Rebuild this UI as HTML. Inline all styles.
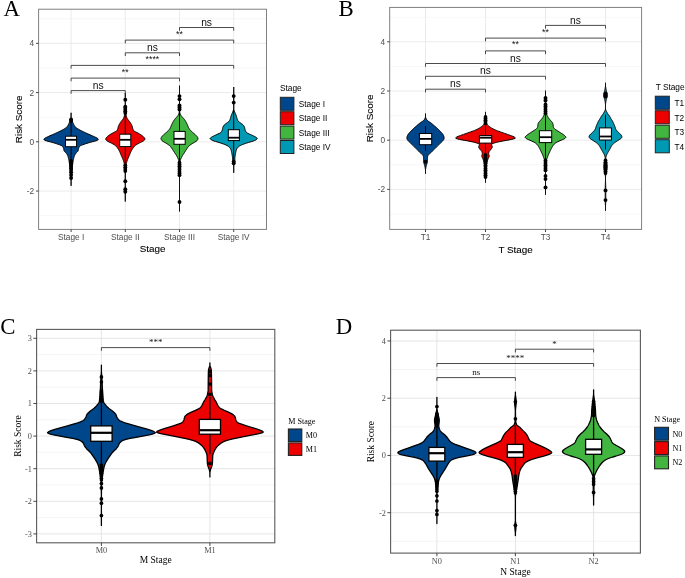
<!DOCTYPE html>
<html lang="en"><head><meta charset="utf-8"><title>Risk score violin plots by stage</title>
<style>html,body{margin:0;padding:0;background:#fff}svg{display:block}</style></head><body>
<svg width="685" height="578" viewBox="0 0 685 578">
<rect width="685" height="578" fill="#fff"/>
<g font-family='"Liberation Sans", Arial, sans-serif'>
<path d="M38.6 18.7H266.5" stroke="#efefef" stroke-width="0.5"/><path d="M38.6 67.94H266.5" stroke="#efefef" stroke-width="0.5"/><path d="M38.6 117.18H266.5" stroke="#efefef" stroke-width="0.5"/><path d="M38.6 166.42H266.5" stroke="#efefef" stroke-width="0.5"/><path d="M38.6 215.66H266.5" stroke="#efefef" stroke-width="0.5"/><path d="M38.6 43.32H266.5" stroke="#e2e2e2" stroke-width="0.7"/><path d="M38.6 92.56H266.5" stroke="#e2e2e2" stroke-width="0.7"/><path d="M38.6 141.8H266.5" stroke="#e2e2e2" stroke-width="0.7"/><path d="M38.6 191.04H266.5" stroke="#e2e2e2" stroke-width="0.7"/><path d="M71.1 9.2V229.4" stroke="#e2e2e2" stroke-width="0.7"/><path d="M125.3 9.2V229.4" stroke="#e2e2e2" stroke-width="0.7"/><path d="M179.5 9.2V229.4" stroke="#e2e2e2" stroke-width="0.7"/><path d="M233.7 9.2V229.4" stroke="#e2e2e2" stroke-width="0.7"/>
<path d="M71.1 112.8 L71.1 113.3 L71.1 113.8 L71.1 114.3 L71.1 114.8 L71.1 115.3 L71.1 115.8 L71.1 116.3 L71.1 116.8 L71.1 117.3 L71.1 117.8 L71.16 118.3 L71.28 118.8 L71.44 119.3 L71.63 119.8 L71.83 120.3 L72.04 120.8 L72.24 121.3 L72.46 121.8 L72.69 122.3 L72.94 122.8 L73.19 123.3 L73.45 123.8 L73.7 124.3 L73.94 124.8 L74.17 125.3 L74.42 125.8 L74.73 126.3 L75.14 126.8 L75.68 127.3 L76.32 127.8 L77.02 128.3 L77.75 128.8 L78.58 129.3 L79.48 129.8 L80.43 130.3 L81.38 130.8 L82.38 131.3 L83.4 131.8 L84.46 132.3 L85.53 132.8 L86.64 133.3 L87.76 133.8 L88.9 134.3 L90.02 134.8 L91.16 135.3 L92.31 135.8 L93.43 136.3 L94.5 136.8 L95.59 137.3 L96.65 137.8 L97.48 138.3 L98.04 138.8 L98.39 139.3 L98.12 139.8 L97.29 140.3 L96.05 140.8 L94.15 141.3 L92.13 141.8 L90.37 142.3 L88.66 142.8 L87 143.3 L85.45 143.8 L84.04 144.3 L82.62 144.8 L81.3 145.3 L80.28 145.8 L79.72 146.3 L79.35 146.8 L79.07 147.3 L78.84 147.8 L78.67 148.3 L78.54 148.8 L78.44 149.3 L78.36 149.8 L78.25 150.3 L78.1 150.8 L77.81 151.3 L77.36 151.8 L76.83 152.3 L76.31 152.8 L75.87 153.3 L75.54 153.8 L75.24 154.3 L74.95 154.8 L74.7 155.3 L74.47 155.8 L74.27 156.3 L74.1 156.8 L73.95 157.3 L73.82 157.8 L73.69 158.3 L73.57 158.8 L73.47 159.3 L73.37 159.8 L73.27 160.3 L73.18 160.8 L73.1 161.3 L73.03 161.8 L72.96 162.3 L72.89 162.8 L72.83 163.3 L72.76 163.8 L72.7 164.3 L72.63 164.8 L72.55 165.3 L72.47 165.8 L72.39 166.3 L72.3 166.8 L72.21 167.3 L72.12 167.8 L72.04 168.3 L71.96 168.8 L71.88 169.3 L71.82 169.8 L71.77 170.3 L71.72 170.8 L71.68 171.3 L71.63 171.8 L71.59 172.3 L71.56 172.8 L71.52 173.3 L71.48 173.8 L71.45 174.3 L71.42 174.8 L71.39 175.3 L71.35 175.8 L71.32 176.3 L71.29 176.8 L71.25 177.3 L71.22 177.8 L71.18 178.3 L71.14 178.8 L71.1 179.3 L71.1 179.8 L71.1 180.3 L71.1 180.8 L71.1 181.3 L71.1 181.8 L71.1 182.3 L71.1 182.8 L71.1 183.3 L71.1 183.8 L71.1 184.3 L71.1 184.8 L71.1 185.3 L71.1 185.8 L71.1 185.8 L71.1 185.3 L71.1 184.8 L71.1 184.3 L71.1 183.8 L71.1 183.3 L71.1 182.8 L71.1 182.3 L71.1 181.8 L71.1 181.3 L71.1 180.8 L71.1 180.3 L71.1 179.8 L71.1 179.3 L71.06 178.8 L71.02 178.3 L70.98 177.8 L70.95 177.3 L70.91 176.8 L70.88 176.3 L70.85 175.8 L70.81 175.3 L70.78 174.8 L70.75 174.3 L70.72 173.8 L70.68 173.3 L70.64 172.8 L70.61 172.3 L70.57 171.8 L70.52 171.3 L70.48 170.8 L70.43 170.3 L70.38 169.8 L70.32 169.3 L70.24 168.8 L70.16 168.3 L70.08 167.8 L69.99 167.3 L69.9 166.8 L69.81 166.3 L69.73 165.8 L69.65 165.3 L69.57 164.8 L69.5 164.3 L69.44 163.8 L69.37 163.3 L69.31 162.8 L69.24 162.3 L69.17 161.8 L69.1 161.3 L69.02 160.8 L68.93 160.3 L68.83 159.8 L68.73 159.3 L68.63 158.8 L68.51 158.3 L68.38 157.8 L68.25 157.3 L68.1 156.8 L67.93 156.3 L67.73 155.8 L67.5 155.3 L67.25 154.8 L66.96 154.3 L66.66 153.8 L66.33 153.3 L65.89 152.8 L65.37 152.3 L64.84 151.8 L64.39 151.3 L64.1 150.8 L63.95 150.3 L63.84 149.8 L63.76 149.3 L63.66 148.8 L63.53 148.3 L63.36 147.8 L63.13 147.3 L62.85 146.8 L62.48 146.3 L61.92 145.8 L60.9 145.3 L59.58 144.8 L58.16 144.3 L56.75 143.8 L55.2 143.3 L53.54 142.8 L51.83 142.3 L50.07 141.8 L48.05 141.3 L46.15 140.8 L44.91 140.3 L44.08 139.8 L43.81 139.3 L44.16 138.8 L44.72 138.3 L45.55 137.8 L46.61 137.3 L47.7 136.8 L48.77 136.3 L49.89 135.8 L51.04 135.3 L52.18 134.8 L53.3 134.3 L54.44 133.8 L55.56 133.3 L56.67 132.8 L57.74 132.3 L58.8 131.8 L59.82 131.3 L60.82 130.8 L61.77 130.3 L62.72 129.8 L63.62 129.3 L64.45 128.8 L65.18 128.3 L65.88 127.8 L66.52 127.3 L67.06 126.8 L67.47 126.3 L67.78 125.8 L68.03 125.3 L68.26 124.8 L68.5 124.3 L68.75 123.8 L69.01 123.3 L69.26 122.8 L69.51 122.3 L69.74 121.8 L69.96 121.3 L70.16 120.8 L70.37 120.3 L70.57 119.8 L70.76 119.3 L70.92 118.8 L71.04 118.3 L71.1 117.8 L71.1 117.3 L71.1 116.8 L71.1 116.3 L71.1 115.8 L71.1 115.3 L71.1 114.8 L71.1 114.3 L71.1 113.8 L71.1 113.3 L71.1 112.8Z" fill="#00468B" stroke="#000" stroke-width="1.0" stroke-linejoin="round"/>
<path d="M125.3 93 L125.3 93.5 L125.3 94 L125.3 94.5 L125.3 95 L125.3 95.5 L125.3 96 L125.3 96.5 L125.3 97 L125.3 97.5 L125.3 98 L125.3 98.5 L125.3 99 L125.3 99.5 L125.3 100 L125.3 100.5 L125.3 101 L125.3 101.5 L125.3 102 L125.3 102.5 L125.3 103 L125.3 103.5 L125.3 104 L125.3 104.5 L125.3 105 L125.3 105.5 L125.3 106 L125.3 106.5 L125.3 107 L125.3 107.5 L125.3 108 L125.3 108.5 L125.3 109 L125.3 109.5 L125.3 110 L125.32 110.5 L125.36 111 L125.42 111.5 L125.49 112 L125.57 112.5 L125.66 113 L125.76 113.5 L125.86 114 L125.96 114.5 L126.06 115 L126.18 115.5 L126.3 116 L126.44 116.5 L126.6 117 L126.77 117.5 L126.97 118 L127.2 118.5 L127.51 119 L127.89 119.5 L128.29 120 L128.67 120.5 L129.06 121 L129.46 121.5 L129.84 122 L130.2 122.5 L130.53 123 L130.84 123.5 L131.13 124 L131.4 124.5 L131.65 125 L131.88 125.5 L132.09 126 L132.27 126.5 L132.41 127 L132.52 127.5 L132.62 128 L132.74 128.5 L132.9 129 L133.08 129.5 L133.3 130 L133.59 130.5 L133.99 131 L134.78 131.5 L135.83 132 L136.92 132.5 L137.86 133 L138.76 133.5 L139.65 134 L140.49 134.5 L141.24 135 L141.94 135.5 L142.6 136 L143.19 136.5 L143.7 137 L144.16 137.5 L144.55 138 L144.77 138.5 L144.9 139 L144.8 139.5 L144.54 140 L144.03 140.5 L143.34 141 L142.53 141.5 L141.51 142 L140.42 142.5 L139.37 143 L138.47 143.5 L137.58 144 L136.72 144.5 L135.93 145 L135.25 145.5 L134.69 146 L134.22 146.5 L133.8 147 L133.42 147.5 L133.07 148 L132.73 148.5 L132.4 149 L132.09 149.5 L131.8 150 L131.52 150.5 L131.25 151 L131 151.5 L130.77 152 L130.55 152.5 L130.35 153 L130.15 153.5 L129.95 154 L129.74 154.5 L129.53 155 L129.31 155.5 L129.08 156 L128.86 156.5 L128.64 157 L128.42 157.5 L128.22 158 L128.01 158.5 L127.8 159 L127.6 159.5 L127.41 160 L127.23 160.5 L127.07 161 L126.91 161.5 L126.76 162 L126.62 162.5 L126.49 163 L126.38 163.5 L126.3 164 L126.23 164.5 L126.17 165 L126.1 165.5 L126.04 166 L125.99 166.5 L125.93 167 L125.88 167.5 L125.83 168 L125.78 168.5 L125.74 169 L125.69 169.5 L125.65 170 L125.62 170.5 L125.58 171 L125.55 171.5 L125.52 172 L125.49 172.5 L125.47 173 L125.45 173.5 L125.43 174 L125.41 174.5 L125.4 175 L125.39 175.5 L125.38 176 L125.37 176.5 L125.36 177 L125.35 177.5 L125.34 178 L125.34 178.5 L125.33 179 L125.32 179.5 L125.32 180 L125.31 180.5 L125.31 181 L125.3 181.5 L125.3 182 L125.3 182.5 L125.3 183 L125.3 183.5 L125.3 184 L125.3 184.5 L125.3 185 L125.3 185.5 L125.3 186 L125.3 186.5 L125.3 187 L125.3 187.5 L125.3 188 L125.3 188.5 L125.3 189 L125.3 189.5 L125.3 190 L125.3 190.5 L125.3 191 L125.3 191.5 L125.3 192 L125.3 192.5 L125.3 193 L125.3 193.5 L125.3 194 L125.3 194.5 L125.3 195 L125.3 195.5 L125.3 196 L125.3 196.5 L125.3 197 L125.3 197.5 L125.3 198 L125.3 198.5 L125.3 199 L125.3 199.5 L125.3 200 L125.3 200.5 L125.3 201 L125.3 201.5 L125.3 201.5 L125.3 201 L125.3 200.5 L125.3 200 L125.3 199.5 L125.3 199 L125.3 198.5 L125.3 198 L125.3 197.5 L125.3 197 L125.3 196.5 L125.3 196 L125.3 195.5 L125.3 195 L125.3 194.5 L125.3 194 L125.3 193.5 L125.3 193 L125.3 192.5 L125.3 192 L125.3 191.5 L125.3 191 L125.3 190.5 L125.3 190 L125.3 189.5 L125.3 189 L125.3 188.5 L125.3 188 L125.3 187.5 L125.3 187 L125.3 186.5 L125.3 186 L125.3 185.5 L125.3 185 L125.3 184.5 L125.3 184 L125.3 183.5 L125.3 183 L125.3 182.5 L125.3 182 L125.3 181.5 L125.29 181 L125.29 180.5 L125.28 180 L125.28 179.5 L125.27 179 L125.26 178.5 L125.26 178 L125.25 177.5 L125.24 177 L125.23 176.5 L125.22 176 L125.21 175.5 L125.2 175 L125.19 174.5 L125.17 174 L125.15 173.5 L125.13 173 L125.11 172.5 L125.08 172 L125.05 171.5 L125.02 171 L124.98 170.5 L124.95 170 L124.91 169.5 L124.86 169 L124.82 168.5 L124.77 168 L124.72 167.5 L124.67 167 L124.61 166.5 L124.56 166 L124.5 165.5 L124.43 165 L124.37 164.5 L124.3 164 L124.22 163.5 L124.11 163 L123.98 162.5 L123.84 162 L123.69 161.5 L123.53 161 L123.37 160.5 L123.19 160 L123 159.5 L122.8 159 L122.59 158.5 L122.38 158 L122.18 157.5 L121.96 157 L121.74 156.5 L121.52 156 L121.29 155.5 L121.07 155 L120.86 154.5 L120.65 154 L120.45 153.5 L120.25 153 L120.05 152.5 L119.83 152 L119.6 151.5 L119.35 151 L119.08 150.5 L118.8 150 L118.51 149.5 L118.2 149 L117.87 148.5 L117.53 148 L117.18 147.5 L116.8 147 L116.38 146.5 L115.91 146 L115.35 145.5 L114.67 145 L113.88 144.5 L113.02 144 L112.13 143.5 L111.23 143 L110.18 142.5 L109.09 142 L108.07 141.5 L107.26 141 L106.57 140.5 L106.06 140 L105.8 139.5 L105.7 139 L105.83 138.5 L106.05 138 L106.44 137.5 L106.9 137 L107.41 136.5 L108 136 L108.66 135.5 L109.36 135 L110.11 134.5 L110.95 134 L111.84 133.5 L112.74 133 L113.68 132.5 L114.77 132 L115.82 131.5 L116.61 131 L117.01 130.5 L117.3 130 L117.52 129.5 L117.7 129 L117.86 128.5 L117.98 128 L118.08 127.5 L118.19 127 L118.33 126.5 L118.51 126 L118.72 125.5 L118.95 125 L119.2 124.5 L119.47 124 L119.76 123.5 L120.07 123 L120.4 122.5 L120.76 122 L121.14 121.5 L121.54 121 L121.93 120.5 L122.31 120 L122.71 119.5 L123.09 119 L123.4 118.5 L123.63 118 L123.83 117.5 L124 117 L124.16 116.5 L124.3 116 L124.42 115.5 L124.54 115 L124.64 114.5 L124.74 114 L124.84 113.5 L124.94 113 L125.03 112.5 L125.11 112 L125.18 111.5 L125.24 111 L125.28 110.5 L125.3 110 L125.3 109.5 L125.3 109 L125.3 108.5 L125.3 108 L125.3 107.5 L125.3 107 L125.3 106.5 L125.3 106 L125.3 105.5 L125.3 105 L125.3 104.5 L125.3 104 L125.3 103.5 L125.3 103 L125.3 102.5 L125.3 102 L125.3 101.5 L125.3 101 L125.3 100.5 L125.3 100 L125.3 99.5 L125.3 99 L125.3 98.5 L125.3 98 L125.3 97.5 L125.3 97 L125.3 96.5 L125.3 96 L125.3 95.5 L125.3 95 L125.3 94.5 L125.3 94 L125.3 93.5 L125.3 93Z" fill="#ED0000" stroke="#000" stroke-width="1.0" stroke-linejoin="round"/>
<path d="M179.5 85.7 L179.5 86.2 L179.5 86.7 L179.5 87.2 L179.5 87.7 L179.5 88.2 L179.5 88.7 L179.5 89.2 L179.5 89.7 L179.5 90.2 L179.5 90.7 L179.5 91.2 L179.5 91.7 L179.5 92.2 L179.5 92.7 L179.5 93.2 L179.5 93.7 L179.5 94.2 L179.5 94.7 L179.5 95.2 L179.5 95.7 L179.5 96.2 L179.5 96.7 L179.5 97.2 L179.5 97.7 L179.5 98.2 L179.5 98.7 L179.5 99.2 L179.5 99.7 L179.5 100.2 L179.5 100.7 L179.5 101.2 L179.5 101.7 L179.5 102.2 L179.5 102.7 L179.5 103.2 L179.5 103.7 L179.5 104.2 L179.5 104.7 L179.5 105.2 L179.51 105.7 L179.52 106.2 L179.53 106.7 L179.54 107.2 L179.55 107.7 L179.56 108.2 L179.58 108.7 L179.6 109.2 L179.61 109.7 L179.64 110.2 L179.66 110.7 L179.68 111.2 L179.72 111.7 L179.78 112.2 L179.89 112.7 L180.04 113.2 L180.21 113.7 L180.4 114.2 L180.61 114.7 L180.85 115.2 L181.19 115.7 L181.59 116.2 L182 116.7 L182.42 117.2 L182.88 117.7 L183.34 118.2 L183.79 118.7 L184.2 119.2 L184.57 119.7 L184.91 120.2 L185.24 120.7 L185.55 121.2 L185.84 121.7 L186.12 122.2 L186.38 122.7 L186.63 123.2 L186.87 123.7 L187.11 124.2 L187.33 124.7 L187.54 125.2 L187.74 125.7 L187.94 126.2 L188.16 126.7 L188.4 127.2 L188.65 127.7 L188.92 128.2 L189.2 128.7 L189.52 129.2 L189.87 129.7 L190.3 130.2 L190.78 130.7 L191.31 131.2 L191.86 131.7 L192.4 132.2 L192.96 132.7 L193.56 133.2 L194.17 133.7 L194.76 134.2 L195.3 134.7 L195.8 135.2 L196.3 135.7 L196.77 136.2 L197.18 136.7 L197.5 137.2 L197.73 137.7 L197.92 138.2 L198 138.7 L197.9 139.2 L197.67 139.7 L197.37 140.2 L196.92 140.7 L196.33 141.2 L195.56 141.7 L194.67 142.2 L193.75 142.7 L192.87 143.2 L192.1 143.7 L191.35 144.2 L190.62 144.7 L189.94 145.2 L189.32 145.7 L188.8 146.2 L188.36 146.7 L187.96 147.2 L187.6 147.7 L187.26 148.2 L186.93 148.7 L186.6 149.2 L186.27 149.7 L185.94 150.2 L185.62 150.7 L185.31 151.2 L185.01 151.7 L184.7 152.2 L184.39 152.7 L184.07 153.2 L183.73 153.7 L183.38 154.2 L183.03 154.7 L182.7 155.2 L182.38 155.7 L182.1 156.2 L181.85 156.7 L181.61 157.2 L181.37 157.7 L181.13 158.2 L180.91 158.7 L180.71 159.2 L180.53 159.7 L180.39 160.2 L180.27 160.7 L180.2 161.2 L180.15 161.7 L180.1 162.2 L180.06 162.7 L180.01 163.2 L179.97 163.7 L179.93 164.2 L179.89 164.7 L179.86 165.2 L179.83 165.7 L179.79 166.2 L179.76 166.7 L179.73 167.2 L179.71 167.7 L179.68 168.2 L179.66 168.7 L179.64 169.2 L179.62 169.7 L179.6 170.2 L179.58 170.7 L179.57 171.2 L179.56 171.7 L179.54 172.2 L179.53 172.7 L179.52 173.2 L179.51 173.7 L179.51 174.2 L179.5 174.7 L179.5 175.2 L179.5 175.7 L179.5 176.2 L179.5 176.7 L179.5 177.2 L179.5 177.7 L179.5 178.2 L179.5 178.7 L179.5 179.2 L179.5 179.7 L179.5 180.2 L179.5 180.7 L179.5 181.2 L179.5 181.7 L179.5 182.2 L179.5 182.7 L179.5 183.2 L179.5 183.7 L179.5 184.2 L179.5 184.7 L179.5 185.2 L179.5 185.7 L179.5 186.2 L179.5 186.7 L179.5 187.2 L179.5 187.7 L179.5 188.2 L179.5 188.7 L179.5 189.2 L179.5 189.7 L179.5 190.2 L179.5 190.7 L179.5 191.2 L179.5 191.7 L179.5 192.2 L179.5 192.7 L179.5 193.2 L179.5 193.7 L179.5 194.2 L179.5 194.7 L179.5 195.2 L179.5 195.7 L179.5 196.2 L179.5 196.7 L179.5 197.2 L179.5 197.7 L179.5 198.2 L179.5 198.7 L179.5 199.2 L179.5 199.7 L179.5 200.2 L179.5 200.7 L179.5 201.2 L179.5 201.7 L179.5 202.2 L179.5 202.7 L179.5 203.2 L179.5 203.7 L179.5 204.2 L179.5 204.7 L179.5 205.2 L179.5 205.7 L179.5 206.2 L179.5 206.7 L179.5 207.2 L179.5 207.7 L179.5 208.2 L179.5 208.7 L179.5 209.2 L179.5 209.7 L179.5 210.2 L179.5 210.7 L179.5 211.2 L179.5 211.4 L179.5 211.4 L179.5 211.2 L179.5 210.7 L179.5 210.2 L179.5 209.7 L179.5 209.2 L179.5 208.7 L179.5 208.2 L179.5 207.7 L179.5 207.2 L179.5 206.7 L179.5 206.2 L179.5 205.7 L179.5 205.2 L179.5 204.7 L179.5 204.2 L179.5 203.7 L179.5 203.2 L179.5 202.7 L179.5 202.2 L179.5 201.7 L179.5 201.2 L179.5 200.7 L179.5 200.2 L179.5 199.7 L179.5 199.2 L179.5 198.7 L179.5 198.2 L179.5 197.7 L179.5 197.2 L179.5 196.7 L179.5 196.2 L179.5 195.7 L179.5 195.2 L179.5 194.7 L179.5 194.2 L179.5 193.7 L179.5 193.2 L179.5 192.7 L179.5 192.2 L179.5 191.7 L179.5 191.2 L179.5 190.7 L179.5 190.2 L179.5 189.7 L179.5 189.2 L179.5 188.7 L179.5 188.2 L179.5 187.7 L179.5 187.2 L179.5 186.7 L179.5 186.2 L179.5 185.7 L179.5 185.2 L179.5 184.7 L179.5 184.2 L179.5 183.7 L179.5 183.2 L179.5 182.7 L179.5 182.2 L179.5 181.7 L179.5 181.2 L179.5 180.7 L179.5 180.2 L179.5 179.7 L179.5 179.2 L179.5 178.7 L179.5 178.2 L179.5 177.7 L179.5 177.2 L179.5 176.7 L179.5 176.2 L179.5 175.7 L179.5 175.2 L179.5 174.7 L179.49 174.2 L179.49 173.7 L179.48 173.2 L179.47 172.7 L179.46 172.2 L179.44 171.7 L179.43 171.2 L179.42 170.7 L179.4 170.2 L179.38 169.7 L179.36 169.2 L179.34 168.7 L179.32 168.2 L179.29 167.7 L179.27 167.2 L179.24 166.7 L179.21 166.2 L179.17 165.7 L179.14 165.2 L179.11 164.7 L179.07 164.2 L179.03 163.7 L178.99 163.2 L178.94 162.7 L178.9 162.2 L178.85 161.7 L178.8 161.2 L178.73 160.7 L178.61 160.2 L178.47 159.7 L178.29 159.2 L178.09 158.7 L177.87 158.2 L177.63 157.7 L177.39 157.2 L177.15 156.7 L176.9 156.2 L176.62 155.7 L176.3 155.2 L175.97 154.7 L175.62 154.2 L175.27 153.7 L174.93 153.2 L174.61 152.7 L174.3 152.2 L173.99 151.7 L173.69 151.2 L173.38 150.7 L173.06 150.2 L172.73 149.7 L172.4 149.2 L172.07 148.7 L171.74 148.2 L171.4 147.7 L171.04 147.2 L170.64 146.7 L170.2 146.2 L169.68 145.7 L169.06 145.2 L168.38 144.7 L167.65 144.2 L166.9 143.7 L166.13 143.2 L165.25 142.7 L164.33 142.2 L163.44 141.7 L162.67 141.2 L162.08 140.7 L161.63 140.2 L161.33 139.7 L161.1 139.2 L161 138.7 L161.08 138.2 L161.27 137.7 L161.5 137.2 L161.82 136.7 L162.23 136.2 L162.7 135.7 L163.2 135.2 L163.7 134.7 L164.24 134.2 L164.83 133.7 L165.44 133.2 L166.04 132.7 L166.6 132.2 L167.14 131.7 L167.69 131.2 L168.22 130.7 L168.7 130.2 L169.13 129.7 L169.48 129.2 L169.8 128.7 L170.08 128.2 L170.35 127.7 L170.6 127.2 L170.84 126.7 L171.06 126.2 L171.26 125.7 L171.46 125.2 L171.67 124.7 L171.89 124.2 L172.13 123.7 L172.37 123.2 L172.62 122.7 L172.88 122.2 L173.16 121.7 L173.45 121.2 L173.76 120.7 L174.09 120.2 L174.43 119.7 L174.8 119.2 L175.21 118.7 L175.66 118.2 L176.12 117.7 L176.58 117.2 L177 116.7 L177.41 116.2 L177.81 115.7 L178.15 115.2 L178.39 114.7 L178.6 114.2 L178.79 113.7 L178.96 113.2 L179.11 112.7 L179.22 112.2 L179.28 111.7 L179.32 111.2 L179.34 110.7 L179.36 110.2 L179.39 109.7 L179.4 109.2 L179.42 108.7 L179.44 108.2 L179.45 107.7 L179.46 107.2 L179.47 106.7 L179.48 106.2 L179.49 105.7 L179.5 105.2 L179.5 104.7 L179.5 104.2 L179.5 103.7 L179.5 103.2 L179.5 102.7 L179.5 102.2 L179.5 101.7 L179.5 101.2 L179.5 100.7 L179.5 100.2 L179.5 99.7 L179.5 99.2 L179.5 98.7 L179.5 98.2 L179.5 97.7 L179.5 97.2 L179.5 96.7 L179.5 96.2 L179.5 95.7 L179.5 95.2 L179.5 94.7 L179.5 94.2 L179.5 93.7 L179.5 93.2 L179.5 92.7 L179.5 92.2 L179.5 91.7 L179.5 91.2 L179.5 90.7 L179.5 90.2 L179.5 89.7 L179.5 89.2 L179.5 88.7 L179.5 88.2 L179.5 87.7 L179.5 87.2 L179.5 86.7 L179.5 86.2 L179.5 85.7Z" fill="#42B540" stroke="#000" stroke-width="1.0" stroke-linejoin="round"/>
<path d="M233.7 87 L233.7 87.5 L233.7 88 L233.7 88.5 L233.7 89 L233.7 89.5 L233.7 90 L233.7 90.5 L233.7 91 L233.7 91.5 L233.7 92 L233.72 92.5 L233.75 93 L233.79 93.5 L233.82 94 L233.84 94.5 L233.86 95 L233.88 95.5 L233.89 96 L233.9 96.5 L233.9 97 L233.9 97.5 L233.9 98 L233.9 98.5 L233.89 99 L233.89 99.5 L233.88 100 L233.88 100.5 L233.87 101 L233.87 101.5 L233.86 102 L233.86 102.5 L233.85 103 L233.84 103.5 L233.84 104 L233.83 104.5 L233.83 105 L233.82 105.5 L233.82 106 L233.81 106.5 L233.81 107 L233.8 107.5 L233.8 108 L233.8 108.5 L233.8 109 L233.84 109.5 L233.95 110 L234.12 110.5 L234.32 111 L234.52 111.5 L234.73 112 L234.91 112.5 L235.12 113 L235.34 113.5 L235.57 114 L235.79 114.5 L235.99 115 L236.17 115.5 L236.32 116 L236.46 116.5 L236.59 117 L236.72 117.5 L236.87 118 L237.03 118.5 L237.2 119 L237.38 119.5 L237.58 120 L237.81 120.5 L238.1 121 L238.54 121.5 L239.17 122 L239.87 122.5 L240.57 123 L241.24 123.5 L241.97 124 L242.66 124.5 L243.22 125 L243.6 125.5 L243.93 126 L244.21 126.5 L244.43 127 L244.59 127.5 L244.71 128 L244.81 128.5 L244.9 129 L245.01 129.5 L245.16 130 L245.34 130.5 L245.54 131 L245.79 131.5 L246.1 132 L246.49 132.5 L247.21 133 L248.24 133.5 L249.4 134 L250.5 134.5 L251.56 135 L252.65 135.5 L253.72 136 L254.7 136.5 L255.63 137 L256.46 137.5 L256.98 138 L257.29 138.5 L257.1 139 L256.59 139.5 L255.77 140 L254.67 140.5 L253.41 141 L251.82 141.5 L250.07 142 L248.34 142.5 L246.81 143 L245.33 143.5 L243.91 144 L242.61 144.5 L241.49 145 L240.48 145.5 L239.55 146 L238.78 146.5 L238.2 147 L237.74 147.5 L237.34 148 L237 148.5 L236.72 149 L236.5 149.5 L236.33 150 L236.18 150.5 L236.04 151 L235.92 151.5 L235.82 152 L235.72 152.5 L235.63 153 L235.54 153.5 L235.45 154 L235.36 154.5 L235.27 155 L235.18 155.5 L235.11 156 L235.04 156.5 L234.97 157 L234.92 157.5 L234.89 158 L234.86 158.5 L234.84 159 L234.82 159.5 L234.8 160 L234.78 160.5 L234.76 161 L234.73 161.5 L234.7 162 L234.64 162.5 L234.54 163 L234.43 163.5 L234.29 164 L234.15 164.5 L234.02 165 L233.9 165.5 L233.81 166 L233.75 166.5 L233.7 167 L233.7 167.5 L233.7 168 L233.7 168.5 L233.7 169 L233.7 169.5 L233.7 170 L233.7 170.5 L233.7 171 L233.7 171.5 L233.7 172 L233.7 172.5 L233.7 172.8 L233.7 172.8 L233.7 172.5 L233.7 172 L233.7 171.5 L233.7 171 L233.7 170.5 L233.7 170 L233.7 169.5 L233.7 169 L233.7 168.5 L233.7 168 L233.7 167.5 L233.7 167 L233.65 166.5 L233.59 166 L233.5 165.5 L233.38 165 L233.25 164.5 L233.11 164 L232.97 163.5 L232.86 163 L232.76 162.5 L232.7 162 L232.67 161.5 L232.64 161 L232.62 160.5 L232.6 160 L232.58 159.5 L232.56 159 L232.54 158.5 L232.51 158 L232.48 157.5 L232.43 157 L232.36 156.5 L232.29 156 L232.22 155.5 L232.13 155 L232.04 154.5 L231.95 154 L231.86 153.5 L231.77 153 L231.68 152.5 L231.58 152 L231.48 151.5 L231.36 151 L231.22 150.5 L231.07 150 L230.9 149.5 L230.68 149 L230.4 148.5 L230.06 148 L229.66 147.5 L229.2 147 L228.62 146.5 L227.85 146 L226.92 145.5 L225.91 145 L224.79 144.5 L223.49 144 L222.07 143.5 L220.59 143 L219.06 142.5 L217.33 142 L215.58 141.5 L213.99 141 L212.73 140.5 L211.63 140 L210.81 139.5 L210.3 139 L210.11 138.5 L210.42 138 L210.94 137.5 L211.77 137 L212.7 136.5 L213.68 136 L214.75 135.5 L215.84 135 L216.9 134.5 L218 134 L219.16 133.5 L220.19 133 L220.91 132.5 L221.3 132 L221.61 131.5 L221.86 131 L222.06 130.5 L222.24 130 L222.39 129.5 L222.5 129 L222.59 128.5 L222.69 128 L222.81 127.5 L222.97 127 L223.19 126.5 L223.47 126 L223.8 125.5 L224.18 125 L224.74 124.5 L225.43 124 L226.16 123.5 L226.83 123 L227.53 122.5 L228.23 122 L228.86 121.5 L229.3 121 L229.59 120.5 L229.82 120 L230.02 119.5 L230.2 119 L230.37 118.5 L230.53 118 L230.68 117.5 L230.81 117 L230.94 116.5 L231.08 116 L231.23 115.5 L231.41 115 L231.61 114.5 L231.83 114 L232.06 113.5 L232.28 113 L232.49 112.5 L232.67 112 L232.88 111.5 L233.08 111 L233.28 110.5 L233.45 110 L233.56 109.5 L233.6 109 L233.6 108.5 L233.6 108 L233.6 107.5 L233.59 107 L233.59 106.5 L233.58 106 L233.58 105.5 L233.57 105 L233.57 104.5 L233.56 104 L233.56 103.5 L233.55 103 L233.54 102.5 L233.54 102 L233.53 101.5 L233.53 101 L233.52 100.5 L233.52 100 L233.51 99.5 L233.51 99 L233.5 98.5 L233.5 98 L233.5 97.5 L233.5 97 L233.5 96.5 L233.51 96 L233.52 95.5 L233.54 95 L233.56 94.5 L233.58 94 L233.61 93.5 L233.65 93 L233.68 92.5 L233.7 92 L233.7 91.5 L233.7 91 L233.7 90.5 L233.7 90 L233.7 89.5 L233.7 89 L233.7 88.5 L233.7 88 L233.7 87.5 L233.7 87Z" fill="#0099B4" stroke="#000" stroke-width="1.0" stroke-linejoin="round"/>
<path d="M71.1 121V161" stroke="#000" stroke-width="1.0"/><rect x="65.5" y="136.2" width="11.1" height="10.5" fill="#fff" stroke="#000" stroke-width="1.0"/><path d="M65.5 139.8H76.6" stroke="#000" stroke-width="1.8"/><g fill="#000"><circle cx="71.1" cy="119.5" r="1.95"/><circle cx="71.1" cy="121" r="1.95"/><circle cx="71.1" cy="161" r="1.89"/><circle cx="71.1" cy="162.8" r="1.89"/><circle cx="71.1" cy="164.6" r="1.89"/><circle cx="71.1" cy="166.4" r="1.89"/><circle cx="71.1" cy="168.2" r="1.89"/><circle cx="71.1" cy="170" r="1.89"/><circle cx="71.1" cy="172.2" r="1.95"/><circle cx="71.1" cy="175" r="1.95"/><circle cx="71.1" cy="178" r="1.95"/></g>
<path d="M125.3 113V165" stroke="#000" stroke-width="1.0"/><rect x="119.7" y="134.2" width="11.1" height="12.4" fill="#fff" stroke="#000" stroke-width="1.0"/><path d="M119.7 139.8H130.8" stroke="#000" stroke-width="1.8"/><g fill="#000"><circle cx="125.3" cy="99.8" r="1.95"/><circle cx="125.3" cy="106.8" r="1.95"/><circle cx="125.3" cy="108" r="1.89"/><circle cx="125.3" cy="109.67" r="1.89"/><circle cx="125.3" cy="111.33" r="1.89"/><circle cx="125.3" cy="113" r="1.89"/><circle cx="125.3" cy="165.3" r="1.89"/><circle cx="125.3" cy="167.2" r="1.89"/><circle cx="125.3" cy="169.1" r="1.89"/><circle cx="125.3" cy="171" r="1.89"/><circle cx="125.3" cy="181.2" r="1.95"/><circle cx="125.3" cy="189.2" r="1.95"/><circle cx="125.3" cy="191.8" r="1.95"/></g>
<path d="M179.5 110V163" stroke="#000" stroke-width="1.0"/><rect x="174" y="131.4" width="11.2" height="12.9" fill="#fff" stroke="#000" stroke-width="1.0"/><path d="M174 138.8H185.2" stroke="#000" stroke-width="1.8"/><g fill="#000"><circle cx="179.5" cy="96.1" r="1.95"/><circle cx="179.5" cy="99.2" r="1.95"/><circle cx="179.5" cy="105.5" r="1.95"/><circle cx="179.5" cy="107.5" r="1.95"/><circle cx="179.5" cy="109.5" r="1.95"/><circle cx="179.5" cy="162.7" r="1.89"/><circle cx="179.5" cy="164.49" r="1.89"/><circle cx="179.5" cy="166.27" r="1.89"/><circle cx="179.5" cy="168.06" r="1.89"/><circle cx="179.5" cy="169.84" r="1.89"/><circle cx="179.5" cy="171.63" r="1.89"/><circle cx="179.5" cy="173.41" r="1.89"/><circle cx="179.5" cy="175.2" r="1.89"/><circle cx="179.5" cy="202" r="1.95"/></g>
<path d="M233.7 110V160" stroke="#000" stroke-width="1.0"/><rect x="228.3" y="129.7" width="11.1" height="10.9" fill="#fff" stroke="#000" stroke-width="1.0"/><path d="M228.3 137.7H239.4" stroke="#000" stroke-width="1.8"/><g fill="#000"><circle cx="233.7" cy="96.1" r="1.95"/><circle cx="233.7" cy="102.6" r="1.95"/><circle cx="233.7" cy="161.6" r="1.95"/><circle cx="233.7" cy="163.3" r="1.95"/></g>
<path d="M179.5 30.7V27.5H233.7V30.7" fill="none" stroke="#2b2b2b" stroke-width="0.85"/>
<text x="206.6" y="25.6" font-size="10.3" text-anchor="middle" fill="#111">ns</text>
<path d="M125.3 43.3V40.1H233.7V43.3" fill="none" stroke="#2b2b2b" stroke-width="0.85"/>
<text x="179.5" y="36.5" font-size="8.8" text-anchor="middle" fill="#111">**</text>
<path d="M125.3 56V52.8H179.5V56" fill="none" stroke="#2b2b2b" stroke-width="0.85"/>
<text x="152.4" y="50.9" font-size="10.3" text-anchor="middle" fill="#111">ns</text>
<path d="M71.1 68.6V65.4H233.7V68.6" fill="none" stroke="#2b2b2b" stroke-width="0.85"/>
<text x="152.4" y="61.8" font-size="8.8" text-anchor="middle" fill="#111">****</text>
<path d="M71.1 81.3V78.1H179.5V81.3" fill="none" stroke="#2b2b2b" stroke-width="0.85"/>
<text x="125.3" y="74.5" font-size="8.8" text-anchor="middle" fill="#111">**</text>
<path d="M71.1 93.8V90.6H125.3V93.8" fill="none" stroke="#2b2b2b" stroke-width="0.85"/>
<text x="98.2" y="88.7" font-size="10.3" text-anchor="middle" fill="#111">ns</text>
<rect x="38.6" y="9.2" width="227.9" height="220.2" fill="none" stroke="#7a7a7a" stroke-width="0.95"/>
<path d="M36 43.32H38.6" stroke="#333" stroke-width="0.9"/><text x="34.2" y="46.31" font-size="8.3" text-anchor="end" fill="#4d4d4d">4</text><path d="M36 92.56H38.6" stroke="#333" stroke-width="0.9"/><text x="34.2" y="95.55" font-size="8.3" text-anchor="end" fill="#4d4d4d">2</text><path d="M36 141.8H38.6" stroke="#333" stroke-width="0.9"/><text x="34.2" y="144.79" font-size="8.3" text-anchor="end" fill="#4d4d4d">0</text><path d="M36 191.04H38.6" stroke="#333" stroke-width="0.9"/><text x="34.2" y="194.03" font-size="8.3" text-anchor="end" fill="#4d4d4d">-2</text><path d="M71.1 229.4V232" stroke="#333" stroke-width="0.9"/><text x="71.1" y="239.5" font-size="8.3" text-anchor="middle" fill="#4d4d4d">Stage I</text><path d="M125.3 229.4V232" stroke="#333" stroke-width="0.9"/><text x="125.3" y="239.5" font-size="8.3" text-anchor="middle" fill="#4d4d4d">Stage II</text><path d="M179.5 229.4V232" stroke="#333" stroke-width="0.9"/><text x="179.5" y="239.5" font-size="8.3" text-anchor="middle" fill="#4d4d4d">Stage III</text><path d="M233.7 229.4V232" stroke="#333" stroke-width="0.9"/><text x="233.7" y="239.5" font-size="8.3" text-anchor="middle" fill="#4d4d4d">Stage IV</text>
<text x="152.55" y="252.2" font-size="9.9" text-anchor="middle" fill="#000" stroke="#000" stroke-width="0.1">Stage</text>
<text transform="translate(21.7 119.3) rotate(-90)" font-size="9.9" text-anchor="middle" fill="#000" stroke="#000" stroke-width="0.1">Risk Score</text>
<text x="280" y="91.2" font-size="8.3" fill="#000">Stage</text>
<rect x="280.3" y="97.3" width="13.6" height="13" fill="#00468B" stroke="#222" stroke-width="1.0"/>
<text x="298.7" y="106.9" font-size="8.3" fill="#000">Stage I</text>
<rect x="280.3" y="111.7" width="13.6" height="13" fill="#ED0000" stroke="#222" stroke-width="1.0"/>
<text x="298.7" y="121.3" font-size="8.3" fill="#000">Stage II</text>
<rect x="280.3" y="126.1" width="13.6" height="13" fill="#42B540" stroke="#222" stroke-width="1.0"/>
<text x="298.7" y="135.7" font-size="8.3" fill="#000">Stage III</text>
<rect x="280.3" y="140.5" width="13.6" height="13" fill="#0099B4" stroke="#222" stroke-width="1.0"/>
<text x="298.7" y="150.1" font-size="8.3" fill="#000">Stage IV</text>
</g>
<text x="3.4" y="16.2" font-family='"Liberation Serif", "Times New Roman", serif' font-size="22.8" fill="#000">A</text>
<g font-family='"Liberation Sans", Arial, sans-serif'>
<path d="M389.7 17.2H641.6" stroke="#efefef" stroke-width="0.5"/><path d="M389.7 66.4H641.6" stroke="#efefef" stroke-width="0.5"/><path d="M389.7 115.6H641.6" stroke="#efefef" stroke-width="0.5"/><path d="M389.7 164.8H641.6" stroke="#efefef" stroke-width="0.5"/><path d="M389.7 214H641.6" stroke="#efefef" stroke-width="0.5"/><path d="M389.7 41.8H641.6" stroke="#e2e2e2" stroke-width="0.7"/><path d="M389.7 91H641.6" stroke="#e2e2e2" stroke-width="0.7"/><path d="M389.7 140.2H641.6" stroke="#e2e2e2" stroke-width="0.7"/><path d="M389.7 189.4H641.6" stroke="#e2e2e2" stroke-width="0.7"/><path d="M425.5 7.4V229.4" stroke="#e2e2e2" stroke-width="0.7"/><path d="M485.5 7.4V229.4" stroke="#e2e2e2" stroke-width="0.7"/><path d="M545.5 7.4V229.4" stroke="#e2e2e2" stroke-width="0.7"/><path d="M605.5 7.4V229.4" stroke="#e2e2e2" stroke-width="0.7"/>
<path d="M425.5 113.6 L425.5 114.1 L425.5 114.6 L425.5 115.1 L425.5 115.6 L425.5 116.1 L425.5 116.6 L425.55 117.1 L425.69 117.6 L425.87 118.1 L426.11 118.6 L426.38 119.1 L426.7 119.6 L427.1 120.1 L427.58 120.6 L428.13 121.1 L428.84 121.6 L429.63 122.1 L430.43 122.6 L431.13 123.1 L431.77 123.6 L432.37 124.1 L432.95 124.6 L433.52 125.1 L434.1 125.6 L434.68 126.1 L435.26 126.6 L435.83 127.1 L436.4 127.6 L436.95 128.1 L437.49 128.6 L438.02 129.1 L438.55 129.6 L439.06 130.1 L439.57 130.6 L440.05 131.1 L440.52 131.6 L440.97 132.1 L441.43 132.6 L441.88 133.1 L442.31 133.6 L442.7 134.1 L443.03 134.6 L443.3 135.1 L443.55 135.6 L443.76 136.1 L443.93 136.6 L444.01 137.1 L444.06 137.6 L444.09 138.1 L444.1 138.6 L443.97 139.1 L443.7 139.6 L443.35 140.1 L443 140.6 L442.61 141.1 L442.12 141.6 L441.59 142.1 L441.04 142.6 L440.5 143.1 L439.99 143.6 L439.48 144.1 L438.96 144.6 L438.44 145.1 L437.92 145.6 L437.4 146.1 L436.9 146.6 L436.39 147.1 L435.89 147.6 L435.39 148.1 L434.89 148.6 L434.4 149.1 L433.9 149.6 L433.43 150.1 L432.96 150.6 L432.49 151.1 L432.02 151.6 L431.52 152.1 L431 152.6 L430.39 153.1 L429.7 153.6 L429.07 154.1 L428.6 154.6 L428.27 155.1 L427.98 155.6 L427.75 156.1 L427.61 156.6 L427.56 157.1 L427.52 157.6 L427.49 158.1 L427.46 158.6 L427.44 159.1 L427.43 159.6 L427.41 160.1 L427.39 160.6 L427.36 161.1 L427.33 161.6 L427.28 162.1 L427.19 162.6 L427.07 163.1 L426.93 163.6 L426.78 164.1 L426.62 164.6 L426.46 165.1 L426.32 165.6 L426.2 166.1 L426.1 166.6 L426 167.1 L425.9 167.6 L425.81 168.1 L425.73 168.6 L425.64 169.1 L425.56 169.6 L425.5 170.1 L425.5 170.6 L425.5 171.1 L425.5 171.6 L425.5 172.1 L425.5 172.6 L425.5 173.1 L425.5 173.6 L425.5 173.7 L425.5 173.7 L425.5 173.6 L425.5 173.1 L425.5 172.6 L425.5 172.1 L425.5 171.6 L425.5 171.1 L425.5 170.6 L425.5 170.1 L425.44 169.6 L425.36 169.1 L425.27 168.6 L425.19 168.1 L425.1 167.6 L425 167.1 L424.9 166.6 L424.8 166.1 L424.68 165.6 L424.54 165.1 L424.38 164.6 L424.22 164.1 L424.07 163.6 L423.93 163.1 L423.81 162.6 L423.72 162.1 L423.67 161.6 L423.64 161.1 L423.61 160.6 L423.59 160.1 L423.57 159.6 L423.56 159.1 L423.54 158.6 L423.51 158.1 L423.48 157.6 L423.44 157.1 L423.39 156.6 L423.25 156.1 L423.02 155.6 L422.73 155.1 L422.4 154.6 L421.93 154.1 L421.3 153.6 L420.61 153.1 L420 152.6 L419.48 152.1 L418.98 151.6 L418.51 151.1 L418.04 150.6 L417.57 150.1 L417.1 149.6 L416.6 149.1 L416.11 148.6 L415.61 148.1 L415.11 147.6 L414.61 147.1 L414.1 146.6 L413.6 146.1 L413.08 145.6 L412.56 145.1 L412.04 144.6 L411.52 144.1 L411.01 143.6 L410.5 143.1 L409.96 142.6 L409.41 142.1 L408.88 141.6 L408.39 141.1 L408 140.6 L407.65 140.1 L407.3 139.6 L407.03 139.1 L406.9 138.6 L406.91 138.1 L406.94 137.6 L406.99 137.1 L407.07 136.6 L407.24 136.1 L407.45 135.6 L407.7 135.1 L407.97 134.6 L408.3 134.1 L408.69 133.6 L409.12 133.1 L409.57 132.6 L410.03 132.1 L410.48 131.6 L410.95 131.1 L411.43 130.6 L411.94 130.1 L412.45 129.6 L412.98 129.1 L413.51 128.6 L414.05 128.1 L414.6 127.6 L415.17 127.1 L415.74 126.6 L416.32 126.1 L416.9 125.6 L417.48 125.1 L418.05 124.6 L418.63 124.1 L419.23 123.6 L419.87 123.1 L420.57 122.6 L421.37 122.1 L422.16 121.6 L422.87 121.1 L423.42 120.6 L423.9 120.1 L424.3 119.6 L424.62 119.1 L424.89 118.6 L425.13 118.1 L425.31 117.6 L425.45 117.1 L425.5 116.6 L425.5 116.1 L425.5 115.6 L425.5 115.1 L425.5 114.6 L425.5 114.1 L425.5 113.6Z" fill="#00468B" stroke="#000" stroke-width="1.0" stroke-linejoin="round"/>
<path d="M485.5 111.9 L485.5 112.4 L485.5 112.9 L485.5 113.4 L485.5 113.9 L485.5 114.4 L485.5 114.9 L485.5 115.4 L485.5 115.9 L485.5 116.4 L485.5 116.9 L485.53 117.4 L485.59 117.9 L485.65 118.4 L485.7 118.9 L485.75 119.4 L485.8 119.9 L485.86 120.4 L485.92 120.9 L485.99 121.4 L486.07 121.9 L486.16 122.4 L486.27 122.9 L486.4 123.4 L486.64 123.9 L487.04 124.4 L487.53 124.9 L488.08 125.4 L488.62 125.9 L489.21 126.4 L489.86 126.9 L490.57 127.4 L491.34 127.9 L492.18 128.4 L493.1 128.9 L494.11 129.4 L495.19 129.9 L496.33 130.4 L497.6 130.9 L498.97 131.4 L500.41 131.9 L501.84 132.4 L503.24 132.9 L504.65 133.4 L506.07 133.9 L507.49 134.4 L508.88 134.9 L510.32 135.4 L511.73 135.9 L512.98 136.4 L514.02 136.9 L514.87 137.4 L515.47 137.9 L515 138.4 L513.61 138.9 L511.5 139.4 L509.04 139.9 L506.21 140.4 L503.41 140.9 L500.92 141.4 L498.44 141.9 L496.25 142.4 L494.62 142.9 L493.24 143.4 L492.09 143.9 L491.52 144.4 L491.56 144.9 L491.77 145.4 L492.03 145.9 L492.24 146.4 L492.3 146.9 L492.19 147.4 L491.96 147.9 L491.65 148.4 L491.33 148.9 L490.98 149.4 L490.5 149.9 L489.96 150.4 L489.5 150.9 L489.2 151.4 L489.03 151.9 L488.89 152.4 L488.78 152.9 L488.71 153.4 L488.71 153.9 L488.81 154.4 L488.97 154.9 L489.12 155.4 L489.2 155.9 L489.16 156.4 L489 156.9 L488.77 157.4 L488.51 157.9 L488.26 158.4 L488.07 158.9 L487.9 159.4 L487.74 159.9 L487.59 160.4 L487.45 160.9 L487.31 161.4 L487.18 161.9 L487.05 162.4 L486.92 162.9 L486.79 163.4 L486.67 163.9 L486.54 164.4 L486.43 164.9 L486.32 165.4 L486.23 165.9 L486.15 166.4 L486.09 166.9 L486.03 167.4 L485.98 167.9 L485.94 168.4 L485.9 168.9 L485.86 169.4 L485.82 169.9 L485.79 170.4 L485.75 170.9 L485.72 171.4 L485.69 171.9 L485.66 172.4 L485.63 172.9 L485.6 173.4 L485.57 173.9 L485.54 174.4 L485.51 174.9 L485.5 175.4 L485.5 175.9 L485.5 176.4 L485.5 176.9 L485.5 177.4 L485.5 177.9 L485.5 178.4 L485.5 178.9 L485.5 179.4 L485.5 179.9 L485.5 180.4 L485.5 180.9 L485.5 181.4 L485.5 181.9 L485.5 182.4 L485.5 182.6 L485.5 182.6 L485.5 182.4 L485.5 181.9 L485.5 181.4 L485.5 180.9 L485.5 180.4 L485.5 179.9 L485.5 179.4 L485.5 178.9 L485.5 178.4 L485.5 177.9 L485.5 177.4 L485.5 176.9 L485.5 176.4 L485.5 175.9 L485.5 175.4 L485.49 174.9 L485.46 174.4 L485.43 173.9 L485.4 173.4 L485.37 172.9 L485.34 172.4 L485.31 171.9 L485.28 171.4 L485.25 170.9 L485.21 170.4 L485.18 169.9 L485.14 169.4 L485.1 168.9 L485.06 168.4 L485.02 167.9 L484.97 167.4 L484.91 166.9 L484.85 166.4 L484.77 165.9 L484.68 165.4 L484.57 164.9 L484.46 164.4 L484.33 163.9 L484.21 163.4 L484.08 162.9 L483.95 162.4 L483.82 161.9 L483.69 161.4 L483.55 160.9 L483.41 160.4 L483.26 159.9 L483.1 159.4 L482.93 158.9 L482.74 158.4 L482.49 157.9 L482.23 157.4 L482 156.9 L481.84 156.4 L481.8 155.9 L481.88 155.4 L482.03 154.9 L482.19 154.4 L482.29 153.9 L482.29 153.4 L482.22 152.9 L482.11 152.4 L481.97 151.9 L481.8 151.4 L481.5 150.9 L481.04 150.4 L480.5 149.9 L480.02 149.4 L479.67 148.9 L479.35 148.4 L479.04 147.9 L478.81 147.4 L478.7 146.9 L478.76 146.4 L478.97 145.9 L479.23 145.4 L479.44 144.9 L479.48 144.4 L478.91 143.9 L477.76 143.4 L476.38 142.9 L474.75 142.4 L472.56 141.9 L470.08 141.4 L467.59 140.9 L464.79 140.4 L461.96 139.9 L459.5 139.4 L457.39 138.9 L456 138.4 L455.53 137.9 L456.13 137.4 L456.98 136.9 L458.02 136.4 L459.27 135.9 L460.68 135.4 L462.12 134.9 L463.51 134.4 L464.93 133.9 L466.35 133.4 L467.76 132.9 L469.16 132.4 L470.59 131.9 L472.03 131.4 L473.4 130.9 L474.67 130.4 L475.81 129.9 L476.89 129.4 L477.9 128.9 L478.82 128.4 L479.66 127.9 L480.43 127.4 L481.14 126.9 L481.79 126.4 L482.38 125.9 L482.92 125.4 L483.47 124.9 L483.96 124.4 L484.36 123.9 L484.6 123.4 L484.73 122.9 L484.84 122.4 L484.93 121.9 L485.01 121.4 L485.08 120.9 L485.14 120.4 L485.2 119.9 L485.25 119.4 L485.3 118.9 L485.35 118.4 L485.41 117.9 L485.47 117.4 L485.5 116.9 L485.5 116.4 L485.5 115.9 L485.5 115.4 L485.5 114.9 L485.5 114.4 L485.5 113.9 L485.5 113.4 L485.5 112.9 L485.5 112.4 L485.5 111.9Z" fill="#ED0000" stroke="#000" stroke-width="1.0" stroke-linejoin="round"/>
<path d="M545.5 90.7 L545.5 91.2 L545.5 91.7 L545.5 92.2 L545.5 92.7 L545.5 93.2 L545.5 93.7 L545.5 94.2 L545.5 94.7 L545.5 95.2 L545.5 95.7 L545.5 96.2 L545.5 96.7 L545.5 97.2 L545.5 97.7 L545.5 98.2 L545.5 98.7 L545.5 99.2 L545.5 99.7 L545.51 100.2 L545.54 100.7 L545.57 101.2 L545.6 101.7 L545.63 102.2 L545.65 102.7 L545.68 103.2 L545.71 103.7 L545.73 104.2 L545.76 104.7 L545.79 105.2 L545.82 105.7 L545.85 106.2 L545.88 106.7 L545.91 107.2 L545.95 107.7 L545.98 108.2 L546.02 108.7 L546.06 109.2 L546.11 109.7 L546.15 110.2 L546.2 110.7 L546.26 111.2 L546.31 111.7 L546.38 112.2 L546.44 112.7 L546.51 113.2 L546.58 113.7 L546.68 114.2 L546.84 114.7 L547.04 115.2 L547.26 115.7 L547.5 116.2 L547.75 116.7 L548.03 117.2 L548.35 117.7 L548.69 118.2 L549.05 118.7 L549.46 119.2 L549.9 119.7 L550.35 120.2 L550.79 120.7 L551.26 121.2 L551.74 121.7 L552.15 122.2 L552.45 122.7 L552.67 123.2 L552.85 123.7 L553 124.2 L553.1 124.7 L553.16 125.2 L553.19 125.7 L553.23 126.2 L553.28 126.7 L553.42 127.2 L553.7 127.7 L554.08 128.2 L554.52 128.7 L555.02 129.2 L555.7 129.7 L556.5 130.2 L557.33 130.7 L558.1 131.2 L558.88 131.7 L559.66 132.2 L560.44 132.7 L561.21 133.2 L561.98 133.7 L562.75 134.2 L563.48 134.7 L564.12 135.2 L564.73 135.7 L565.25 136.2 L565.65 136.7 L565.9 137.2 L565.66 137.7 L565.2 138.2 L564.5 138.7 L563.57 139.2 L562.42 139.7 L561.18 140.2 L560.01 140.7 L558.95 141.2 L557.87 141.7 L556.85 142.2 L555.99 142.7 L555.31 143.2 L554.73 143.7 L554.21 144.2 L553.74 144.7 L553.33 145.2 L552.96 145.7 L552.62 146.2 L552.32 146.7 L552.04 147.2 L551.77 147.7 L551.51 148.2 L551.25 148.7 L550.99 149.2 L550.74 149.7 L550.5 150.2 L550.27 150.7 L550.03 151.2 L549.8 151.7 L549.57 152.2 L549.33 152.7 L549.1 153.2 L548.88 153.7 L548.66 154.2 L548.44 154.7 L548.23 155.2 L548.03 155.7 L547.83 156.2 L547.64 156.7 L547.45 157.2 L547.27 157.7 L547.09 158.2 L546.89 158.7 L546.71 159.2 L546.56 159.7 L546.47 160.2 L546.39 160.7 L546.32 161.2 L546.25 161.7 L546.18 162.2 L546.12 162.7 L546.06 163.2 L546 163.7 L545.95 164.2 L545.9 164.7 L545.86 165.2 L545.82 165.7 L545.78 166.2 L545.74 166.7 L545.71 167.2 L545.69 167.7 L545.66 168.2 L545.64 168.7 L545.62 169.2 L545.61 169.7 L545.6 170.2 L545.59 170.7 L545.58 171.2 L545.57 171.7 L545.56 172.2 L545.55 172.7 L545.54 173.2 L545.54 173.7 L545.53 174.2 L545.53 174.7 L545.52 175.2 L545.52 175.7 L545.51 176.2 L545.51 176.7 L545.51 177.2 L545.5 177.7 L545.5 178.2 L545.5 178.7 L545.5 179.2 L545.5 179.7 L545.5 180.2 L545.5 180.7 L545.5 181.2 L545.5 181.7 L545.5 182.2 L545.5 182.7 L545.5 183.2 L545.5 183.7 L545.5 184.2 L545.5 184.7 L545.5 185.2 L545.5 185.7 L545.5 186.2 L545.5 186.7 L545.5 187.2 L545.5 187.7 L545.5 188.2 L545.5 188.7 L545.5 189.2 L545.5 189.7 L545.5 190.2 L545.5 190.7 L545.5 191.2 L545.5 191.7 L545.5 192.2 L545.5 192.7 L545.5 193.2 L545.5 193.7 L545.5 194.2 L545.5 194.7 L545.5 194.7 L545.5 194.2 L545.5 193.7 L545.5 193.2 L545.5 192.7 L545.5 192.2 L545.5 191.7 L545.5 191.2 L545.5 190.7 L545.5 190.2 L545.5 189.7 L545.5 189.2 L545.5 188.7 L545.5 188.2 L545.5 187.7 L545.5 187.2 L545.5 186.7 L545.5 186.2 L545.5 185.7 L545.5 185.2 L545.5 184.7 L545.5 184.2 L545.5 183.7 L545.5 183.2 L545.5 182.7 L545.5 182.2 L545.5 181.7 L545.5 181.2 L545.5 180.7 L545.5 180.2 L545.5 179.7 L545.5 179.2 L545.5 178.7 L545.5 178.2 L545.5 177.7 L545.49 177.2 L545.49 176.7 L545.49 176.2 L545.48 175.7 L545.48 175.2 L545.47 174.7 L545.47 174.2 L545.46 173.7 L545.46 173.2 L545.45 172.7 L545.44 172.2 L545.43 171.7 L545.42 171.2 L545.41 170.7 L545.4 170.2 L545.39 169.7 L545.38 169.2 L545.36 168.7 L545.34 168.2 L545.31 167.7 L545.29 167.2 L545.26 166.7 L545.22 166.2 L545.18 165.7 L545.14 165.2 L545.1 164.7 L545.05 164.2 L545 163.7 L544.94 163.2 L544.88 162.7 L544.82 162.2 L544.75 161.7 L544.68 161.2 L544.61 160.7 L544.53 160.2 L544.44 159.7 L544.29 159.2 L544.11 158.7 L543.91 158.2 L543.73 157.7 L543.55 157.2 L543.36 156.7 L543.17 156.2 L542.97 155.7 L542.77 155.2 L542.56 154.7 L542.34 154.2 L542.12 153.7 L541.9 153.2 L541.67 152.7 L541.43 152.2 L541.2 151.7 L540.97 151.2 L540.73 150.7 L540.5 150.2 L540.26 149.7 L540.01 149.2 L539.75 148.7 L539.49 148.2 L539.23 147.7 L538.96 147.2 L538.68 146.7 L538.38 146.2 L538.04 145.7 L537.67 145.2 L537.26 144.7 L536.79 144.2 L536.27 143.7 L535.69 143.2 L535.01 142.7 L534.15 142.2 L533.13 141.7 L532.05 141.2 L530.99 140.7 L529.82 140.2 L528.58 139.7 L527.43 139.2 L526.5 138.7 L525.8 138.2 L525.34 137.7 L525.1 137.2 L525.35 136.7 L525.75 136.2 L526.27 135.7 L526.88 135.2 L527.52 134.7 L528.25 134.2 L529.02 133.7 L529.79 133.2 L530.56 132.7 L531.34 132.2 L532.12 131.7 L532.9 131.2 L533.67 130.7 L534.5 130.2 L535.3 129.7 L535.98 129.2 L536.48 128.7 L536.92 128.2 L537.3 127.7 L537.58 127.2 L537.72 126.7 L537.77 126.2 L537.81 125.7 L537.84 125.2 L537.9 124.7 L538 124.2 L538.15 123.7 L538.33 123.2 L538.55 122.7 L538.85 122.2 L539.26 121.7 L539.74 121.2 L540.21 120.7 L540.65 120.2 L541.1 119.7 L541.54 119.2 L541.95 118.7 L542.31 118.2 L542.65 117.7 L542.97 117.2 L543.25 116.7 L543.5 116.2 L543.74 115.7 L543.96 115.2 L544.16 114.7 L544.32 114.2 L544.42 113.7 L544.49 113.2 L544.56 112.7 L544.62 112.2 L544.69 111.7 L544.74 111.2 L544.8 110.7 L544.85 110.2 L544.89 109.7 L544.94 109.2 L544.98 108.7 L545.02 108.2 L545.05 107.7 L545.09 107.2 L545.12 106.7 L545.15 106.2 L545.18 105.7 L545.21 105.2 L545.24 104.7 L545.27 104.2 L545.29 103.7 L545.32 103.2 L545.35 102.7 L545.37 102.2 L545.4 101.7 L545.43 101.2 L545.46 100.7 L545.49 100.2 L545.5 99.7 L545.5 99.2 L545.5 98.7 L545.5 98.2 L545.5 97.7 L545.5 97.2 L545.5 96.7 L545.5 96.2 L545.5 95.7 L545.5 95.2 L545.5 94.7 L545.5 94.2 L545.5 93.7 L545.5 93.2 L545.5 92.7 L545.5 92.2 L545.5 91.7 L545.5 91.2 L545.5 90.7Z" fill="#42B540" stroke="#000" stroke-width="1.0" stroke-linejoin="round"/>
<path d="M605.5 82.8 L605.5 83.3 L605.5 83.8 L605.5 84.3 L605.5 84.8 L605.5 85.3 L605.5 85.8 L605.54 86.3 L605.63 86.8 L605.71 87.3 L605.8 87.8 L605.89 88.3 L605.98 88.8 L606.07 89.3 L606.16 89.8 L606.26 90.3 L606.38 90.8 L606.51 91.3 L606.65 91.8 L606.79 92.3 L606.93 92.8 L607.05 93.3 L607.16 93.8 L607.24 94.3 L607.29 94.8 L607.3 95.3 L607.27 95.8 L607.2 96.3 L607.11 96.8 L606.99 97.3 L606.85 97.8 L606.7 98.3 L606.55 98.8 L606.4 99.3 L606.26 99.8 L606.14 100.3 L606.03 100.8 L605.95 101.3 L605.87 101.8 L605.79 102.3 L605.71 102.8 L605.64 103.3 L605.58 103.8 L605.54 104.3 L605.51 104.8 L605.5 105.3 L605.5 105.8 L605.51 106.3 L605.51 106.8 L605.53 107.3 L605.54 107.8 L605.56 108.3 L605.58 108.8 L605.6 109.3 L605.7 109.8 L605.91 110.3 L606.18 110.8 L606.45 111.3 L606.69 111.8 L606.94 112.3 L607.2 112.8 L607.48 113.3 L607.79 113.8 L608.15 114.3 L608.54 114.8 L608.93 115.3 L609.3 115.8 L609.63 116.3 L609.93 116.8 L610.21 117.3 L610.49 117.8 L610.77 118.3 L611.06 118.8 L611.37 119.3 L611.69 119.8 L612.01 120.3 L612.32 120.8 L612.6 121.3 L612.85 121.8 L613.09 122.3 L613.32 122.8 L613.54 123.3 L613.76 123.8 L613.98 124.3 L614.2 124.8 L614.42 125.3 L614.63 125.8 L614.83 126.3 L615 126.8 L615.14 127.3 L615.27 127.8 L615.41 128.3 L615.58 128.8 L615.8 129.3 L616.12 129.8 L616.51 130.3 L616.94 130.8 L617.38 131.3 L617.86 131.8 L618.37 132.3 L618.89 132.8 L619.4 133.3 L619.97 133.8 L620.55 134.3 L621.06 134.8 L621.4 135.3 L621.63 135.8 L621.81 136.3 L621.9 136.8 L621.83 137.3 L621.57 137.8 L621.21 138.3 L620.54 138.8 L619.83 139.3 L619.07 139.8 L618.28 140.3 L617.5 140.8 L616.74 141.3 L615.95 141.8 L615.18 142.3 L614.47 142.8 L613.87 143.3 L613.34 143.8 L612.85 144.3 L612.4 144.8 L611.99 145.3 L611.63 145.8 L611.32 146.3 L611.03 146.8 L610.77 147.3 L610.52 147.8 L610.27 148.3 L610 148.8 L609.71 149.3 L609.42 149.8 L609.12 150.3 L608.83 150.8 L608.54 151.3 L608.25 151.8 L607.98 152.3 L607.69 152.8 L607.4 153.3 L607.13 153.8 L606.89 154.3 L606.67 154.8 L606.49 155.3 L606.32 155.8 L606.15 156.3 L606 156.8 L605.88 157.3 L605.81 157.8 L605.81 158.3 L605.87 158.8 L605.97 159.3 L606.11 159.8 L606.24 160.3 L606.36 160.8 L606.45 161.3 L606.54 161.8 L606.64 162.3 L606.73 162.8 L606.83 163.3 L606.91 163.8 L606.99 164.3 L607.06 164.8 L607.12 165.3 L607.17 165.8 L607.19 166.3 L607.2 166.8 L607.18 167.3 L607.13 167.8 L607.05 168.3 L606.96 168.8 L606.86 169.3 L606.75 169.8 L606.64 170.3 L606.53 170.8 L606.42 171.3 L606.33 171.8 L606.25 172.3 L606.17 172.8 L606.08 173.3 L606 173.8 L605.91 174.3 L605.82 174.8 L605.74 175.3 L605.67 175.8 L605.6 176.3 L605.55 176.8 L605.52 177.3 L605.5 177.8 L605.5 178.3 L605.5 178.8 L605.51 179.3 L605.52 179.8 L605.53 180.3 L605.54 180.8 L605.55 181.3 L605.57 181.8 L605.58 182.3 L605.6 182.8 L605.62 183.3 L605.64 183.8 L605.65 184.3 L605.67 184.8 L605.69 185.3 L605.71 185.8 L605.72 186.3 L605.74 186.8 L605.75 187.3 L605.77 187.8 L605.78 188.3 L605.79 188.8 L605.79 189.3 L605.8 189.8 L605.8 190.3 L605.8 190.8 L605.8 191.3 L605.8 191.8 L605.8 192.3 L605.8 192.8 L605.8 193.3 L605.8 193.8 L605.8 194.3 L605.8 194.8 L605.8 195.3 L605.8 195.8 L605.8 196.3 L605.8 196.8 L605.8 197.3 L605.8 197.8 L605.8 198.3 L605.8 198.8 L605.8 199.3 L605.8 199.8 L605.8 200.3 L605.79 200.8 L605.78 201.3 L605.77 201.8 L605.75 202.3 L605.73 202.8 L605.7 203.3 L605.67 203.8 L605.63 204.3 L605.6 204.8 L605.56 205.3 L605.51 205.8 L605.5 206.3 L605.5 206.8 L605.5 207.3 L605.5 207.8 L605.5 208.3 L605.5 208.8 L605.5 209.3 L605.5 209.8 L605.5 210.3 L605.5 210.7 L605.5 210.7 L605.5 210.3 L605.5 209.8 L605.5 209.3 L605.5 208.8 L605.5 208.3 L605.5 207.8 L605.5 207.3 L605.5 206.8 L605.5 206.3 L605.49 205.8 L605.44 205.3 L605.4 204.8 L605.37 204.3 L605.33 203.8 L605.3 203.3 L605.27 202.8 L605.25 202.3 L605.23 201.8 L605.22 201.3 L605.21 200.8 L605.2 200.3 L605.2 199.8 L605.2 199.3 L605.2 198.8 L605.2 198.3 L605.2 197.8 L605.2 197.3 L605.2 196.8 L605.2 196.3 L605.2 195.8 L605.2 195.3 L605.2 194.8 L605.2 194.3 L605.2 193.8 L605.2 193.3 L605.2 192.8 L605.2 192.3 L605.2 191.8 L605.2 191.3 L605.2 190.8 L605.2 190.3 L605.2 189.8 L605.21 189.3 L605.21 188.8 L605.22 188.3 L605.23 187.8 L605.25 187.3 L605.26 186.8 L605.28 186.3 L605.29 185.8 L605.31 185.3 L605.33 184.8 L605.35 184.3 L605.36 183.8 L605.38 183.3 L605.4 182.8 L605.42 182.3 L605.43 181.8 L605.45 181.3 L605.46 180.8 L605.47 180.3 L605.48 179.8 L605.49 179.3 L605.5 178.8 L605.5 178.3 L605.5 177.8 L605.48 177.3 L605.45 176.8 L605.4 176.3 L605.33 175.8 L605.26 175.3 L605.18 174.8 L605.09 174.3 L605 173.8 L604.92 173.3 L604.83 172.8 L604.75 172.3 L604.67 171.8 L604.58 171.3 L604.47 170.8 L604.36 170.3 L604.25 169.8 L604.14 169.3 L604.04 168.8 L603.95 168.3 L603.87 167.8 L603.82 167.3 L603.8 166.8 L603.81 166.3 L603.83 165.8 L603.88 165.3 L603.94 164.8 L604.01 164.3 L604.09 163.8 L604.17 163.3 L604.27 162.8 L604.36 162.3 L604.46 161.8 L604.55 161.3 L604.64 160.8 L604.76 160.3 L604.89 159.8 L605.03 159.3 L605.13 158.8 L605.19 158.3 L605.19 157.8 L605.12 157.3 L605 156.8 L604.85 156.3 L604.68 155.8 L604.51 155.3 L604.33 154.8 L604.11 154.3 L603.87 153.8 L603.6 153.3 L603.31 152.8 L603.02 152.3 L602.75 151.8 L602.46 151.3 L602.17 150.8 L601.88 150.3 L601.58 149.8 L601.29 149.3 L601 148.8 L600.73 148.3 L600.48 147.8 L600.23 147.3 L599.97 146.8 L599.68 146.3 L599.37 145.8 L599.01 145.3 L598.6 144.8 L598.15 144.3 L597.66 143.8 L597.13 143.3 L596.53 142.8 L595.82 142.3 L595.05 141.8 L594.26 141.3 L593.5 140.8 L592.72 140.3 L591.93 139.8 L591.17 139.3 L590.46 138.8 L589.79 138.3 L589.43 137.8 L589.17 137.3 L589.1 136.8 L589.19 136.3 L589.37 135.8 L589.6 135.3 L589.94 134.8 L590.45 134.3 L591.03 133.8 L591.6 133.3 L592.11 132.8 L592.63 132.3 L593.14 131.8 L593.62 131.3 L594.06 130.8 L594.49 130.3 L594.88 129.8 L595.2 129.3 L595.42 128.8 L595.59 128.3 L595.73 127.8 L595.86 127.3 L596 126.8 L596.17 126.3 L596.37 125.8 L596.58 125.3 L596.8 124.8 L597.02 124.3 L597.24 123.8 L597.46 123.3 L597.68 122.8 L597.91 122.3 L598.15 121.8 L598.4 121.3 L598.68 120.8 L598.99 120.3 L599.31 119.8 L599.63 119.3 L599.94 118.8 L600.23 118.3 L600.51 117.8 L600.79 117.3 L601.07 116.8 L601.37 116.3 L601.7 115.8 L602.07 115.3 L602.46 114.8 L602.85 114.3 L603.21 113.8 L603.52 113.3 L603.8 112.8 L604.06 112.3 L604.31 111.8 L604.55 111.3 L604.82 110.8 L605.09 110.3 L605.3 109.8 L605.4 109.3 L605.42 108.8 L605.44 108.3 L605.46 107.8 L605.47 107.3 L605.49 106.8 L605.49 106.3 L605.5 105.8 L605.5 105.3 L605.49 104.8 L605.46 104.3 L605.42 103.8 L605.36 103.3 L605.29 102.8 L605.21 102.3 L605.13 101.8 L605.05 101.3 L604.97 100.8 L604.86 100.3 L604.74 99.8 L604.6 99.3 L604.45 98.8 L604.3 98.3 L604.15 97.8 L604.01 97.3 L603.89 96.8 L603.8 96.3 L603.73 95.8 L603.7 95.3 L603.71 94.8 L603.76 94.3 L603.84 93.8 L603.95 93.3 L604.07 92.8 L604.21 92.3 L604.35 91.8 L604.49 91.3 L604.62 90.8 L604.74 90.3 L604.84 89.8 L604.93 89.3 L605.02 88.8 L605.11 88.3 L605.2 87.8 L605.29 87.3 L605.37 86.8 L605.46 86.3 L605.5 85.8 L605.5 85.3 L605.5 84.8 L605.5 84.3 L605.5 83.8 L605.5 83.3 L605.5 82.8Z" fill="#0099B4" stroke="#000" stroke-width="1.0" stroke-linejoin="round"/>
<path d="M425.5 126V151" stroke="#000" stroke-width="1.0"/><rect x="419.4" y="133.5" width="12.3" height="11.2" fill="#fff" stroke="#000" stroke-width="1.0"/><path d="M419.4 138.9H431.7" stroke="#000" stroke-width="1.8"/><g fill="#000"><circle cx="425.5" cy="161.8" r="1.95"/></g>
<path d="M485.5 123.4V155" stroke="#000" stroke-width="1.0"/><rect x="479.4" y="135.6" width="12.3" height="7.5" fill="#fff" stroke="#000" stroke-width="1.0"/><path d="M479.4 137.7H491.7" stroke="#000" stroke-width="1.8"/><g fill="#000"><circle cx="485.5" cy="117" r="1.89"/><circle cx="485.5" cy="118.6" r="1.89"/><circle cx="485.5" cy="120.2" r="1.89"/><circle cx="485.5" cy="121.8" r="1.89"/><circle cx="485.5" cy="123.4" r="1.89"/><circle cx="485.5" cy="155" r="1.89"/><circle cx="485.5" cy="156.69" r="1.89"/><circle cx="485.5" cy="158.38" r="1.89"/><circle cx="485.5" cy="160.08" r="1.89"/><circle cx="485.5" cy="161.77" r="1.89"/><circle cx="485.5" cy="163.46" r="1.89"/><circle cx="485.5" cy="165.15" r="1.89"/><circle cx="485.5" cy="166.85" r="1.89"/><circle cx="485.5" cy="168.54" r="1.89"/><circle cx="485.5" cy="170.23" r="1.89"/><circle cx="485.5" cy="171.92" r="1.89"/><circle cx="485.5" cy="173.62" r="1.89"/><circle cx="485.5" cy="175.31" r="1.89"/><circle cx="485.5" cy="177" r="1.89"/></g>
<path d="M545.5 113V160.4" stroke="#000" stroke-width="1.0"/><rect x="539.4" y="130.7" width="12.3" height="11.9" fill="#fff" stroke="#000" stroke-width="1.0"/><path d="M539.4 137.2H551.7" stroke="#000" stroke-width="1.8"/><g fill="#000"><circle cx="545.5" cy="98" r="1.95"/><circle cx="545.5" cy="100.5" r="1.95"/><circle cx="545.5" cy="104.5" r="1.89"/><circle cx="545.5" cy="106.24" r="1.89"/><circle cx="545.5" cy="107.98" r="1.89"/><circle cx="545.5" cy="109.72" r="1.89"/><circle cx="545.5" cy="111.46" r="1.89"/><circle cx="545.5" cy="113.2" r="1.89"/><circle cx="545.5" cy="160.4" r="1.89"/><circle cx="545.5" cy="162.05" r="1.89"/><circle cx="545.5" cy="163.7" r="1.89"/><circle cx="545.5" cy="165.35" r="1.89"/><circle cx="545.5" cy="167" r="1.89"/><circle cx="545.5" cy="168.65" r="1.89"/><circle cx="545.5" cy="170.3" r="1.89"/><circle cx="545.5" cy="176" r="1.95"/><circle cx="545.5" cy="179.1" r="1.95"/><circle cx="545.5" cy="187.4" r="1.95"/></g>
<path d="M605.5 114.5V149.5" stroke="#000" stroke-width="1.0"/><rect x="599.4" y="127.9" width="12" height="12.1" fill="#fff" stroke="#000" stroke-width="1.0"/><path d="M599.4 136.5H611.4" stroke="#000" stroke-width="1.8"/><g fill="#000"><circle cx="605.5" cy="93.5" r="1.95"/><circle cx="605.5" cy="95" r="1.95"/><circle cx="605.5" cy="96.5" r="1.95"/><circle cx="605.5" cy="160.5" r="1.89"/><circle cx="605.5" cy="162.29" r="1.89"/><circle cx="605.5" cy="164.07" r="1.89"/><circle cx="605.5" cy="165.86" r="1.89"/><circle cx="605.5" cy="167.64" r="1.89"/><circle cx="605.5" cy="169.43" r="1.89"/><circle cx="605.5" cy="171.21" r="1.89"/><circle cx="605.5" cy="173" r="1.89"/><circle cx="605.5" cy="190.4" r="1.95"/><circle cx="605.5" cy="200.1" r="1.95"/></g>
<path d="M545.5 28.6V25.4H605.5V28.6" fill="none" stroke="#2b2b2b" stroke-width="0.85"/>
<text x="575.5" y="23.5" font-size="10.3" text-anchor="middle" fill="#111">ns</text>
<path d="M485.5 41.3V38.1H605.5V41.3" fill="none" stroke="#2b2b2b" stroke-width="0.85"/>
<text x="545.5" y="34.5" font-size="8.8" text-anchor="middle" fill="#111">**</text>
<path d="M485.5 54.1V50.9H545.5V54.1" fill="none" stroke="#2b2b2b" stroke-width="0.85"/>
<text x="515.5" y="47.3" font-size="8.8" text-anchor="middle" fill="#111">**</text>
<path d="M425.5 66.7V63.5H605.5V66.7" fill="none" stroke="#2b2b2b" stroke-width="0.85"/>
<text x="515.5" y="61.6" font-size="10.3" text-anchor="middle" fill="#111">ns</text>
<path d="M425.5 79.5V76.3H545.5V79.5" fill="none" stroke="#2b2b2b" stroke-width="0.85"/>
<text x="485.5" y="74.4" font-size="10.3" text-anchor="middle" fill="#111">ns</text>
<path d="M425.5 92.4V89.2H485.5V92.4" fill="none" stroke="#2b2b2b" stroke-width="0.85"/>
<text x="455.5" y="87.3" font-size="10.3" text-anchor="middle" fill="#111">ns</text>
<rect x="389.7" y="7.4" width="251.9" height="222" fill="none" stroke="#7a7a7a" stroke-width="0.95"/>
<path d="M387.1 41.8H389.7" stroke="#333" stroke-width="0.9"/><text x="385.2" y="44.79" font-size="8.3" text-anchor="end" fill="#4d4d4d">4</text><path d="M387.1 91H389.7" stroke="#333" stroke-width="0.9"/><text x="385.2" y="93.99" font-size="8.3" text-anchor="end" fill="#4d4d4d">2</text><path d="M387.1 140.2H389.7" stroke="#333" stroke-width="0.9"/><text x="385.2" y="143.19" font-size="8.3" text-anchor="end" fill="#4d4d4d">0</text><path d="M387.1 189.4H389.7" stroke="#333" stroke-width="0.9"/><text x="385.2" y="192.39" font-size="8.3" text-anchor="end" fill="#4d4d4d">-2</text><path d="M425.5 229.4V232" stroke="#333" stroke-width="0.9"/><text x="425.5" y="239.6" font-size="8.3" text-anchor="middle" fill="#4d4d4d">T1</text><path d="M485.5 229.4V232" stroke="#333" stroke-width="0.9"/><text x="485.5" y="239.6" font-size="8.3" text-anchor="middle" fill="#4d4d4d">T2</text><path d="M545.5 229.4V232" stroke="#333" stroke-width="0.9"/><text x="545.5" y="239.6" font-size="8.3" text-anchor="middle" fill="#4d4d4d">T3</text><path d="M605.5 229.4V232" stroke="#333" stroke-width="0.9"/><text x="605.5" y="239.6" font-size="8.3" text-anchor="middle" fill="#4d4d4d">T4</text>
<text x="515.65" y="252.9" font-size="9.9" text-anchor="middle" fill="#000" stroke="#000" stroke-width="0.1">T Stage</text>
<text transform="translate(372.8 118.4) rotate(-90)" font-size="9.9" text-anchor="middle" fill="#000" stroke="#000" stroke-width="0.1">Risk Score</text>
<text x="655.7" y="89.7" font-size="8.3" fill="#000">T Stage</text>
<rect x="655.3" y="96.2" width="14" height="13.1" fill="#00468B" stroke="#222" stroke-width="1.0"/>
<text x="674.4" y="106" font-size="8.3" fill="#000">T1</text>
<rect x="655.3" y="110.7" width="14" height="13.1" fill="#ED0000" stroke="#222" stroke-width="1.0"/>
<text x="674.4" y="120.5" font-size="8.3" fill="#000">T2</text>
<rect x="655.3" y="125.2" width="14" height="13.1" fill="#42B540" stroke="#222" stroke-width="1.0"/>
<text x="674.4" y="135" font-size="8.3" fill="#000">T3</text>
<rect x="655.3" y="139.7" width="14" height="13.1" fill="#0099B4" stroke="#222" stroke-width="1.0"/>
<text x="674.4" y="149.5" font-size="8.3" fill="#000">T4</text>
</g>
<text x="338.6" y="16.1" font-family='"Liberation Serif", "Times New Roman", serif' font-size="22.8" fill="#000">B</text>
<g font-family='"Liberation Serif", "Times New Roman", serif'>
<path d="M36.6 354.6H274.8" stroke="#efefef" stroke-width="0.6"/><path d="M36.6 387.2H274.8" stroke="#efefef" stroke-width="0.6"/><path d="M36.6 419.8H274.8" stroke="#efefef" stroke-width="0.6"/><path d="M36.6 452.4H274.8" stroke="#efefef" stroke-width="0.6"/><path d="M36.6 485H274.8" stroke="#efefef" stroke-width="0.6"/><path d="M36.6 517.6H274.8" stroke="#efefef" stroke-width="0.6"/><path d="M36.6 338.3H274.8" stroke="#e2e2e2" stroke-width="0.9"/><path d="M36.6 370.9H274.8" stroke="#e2e2e2" stroke-width="0.9"/><path d="M36.6 403.5H274.8" stroke="#e2e2e2" stroke-width="0.9"/><path d="M36.6 436.1H274.8" stroke="#e2e2e2" stroke-width="0.9"/><path d="M36.6 468.7H274.8" stroke="#e2e2e2" stroke-width="0.9"/><path d="M36.6 501.3H274.8" stroke="#e2e2e2" stroke-width="0.9"/><path d="M36.6 533.9H274.8" stroke="#e2e2e2" stroke-width="0.9"/><path d="M101.4 329.4V542.8" stroke="#e2e2e2" stroke-width="0.9"/><path d="M209.9 329.4V542.8" stroke="#e2e2e2" stroke-width="0.9"/>
<path d="M101.4 365.2 L101.4 365.7 L101.4 366.2 L101.4 366.7 L101.4 367.2 L101.4 367.7 L101.4 368.2 L101.4 368.7 L101.4 369.2 L101.4 369.7 L101.4 370.2 L101.4 370.7 L101.4 371.2 L101.41 371.7 L101.45 372.2 L101.49 372.7 L101.54 373.2 L101.58 373.7 L101.62 374.2 L101.66 374.7 L101.69 375.2 L101.73 375.7 L101.76 376.2 L101.8 376.7 L101.83 377.2 L101.86 377.7 L101.89 378.2 L101.92 378.7 L101.95 379.2 L101.97 379.7 L102 380.2 L102.02 380.7 L102.05 381.2 L102.07 381.7 L102.1 382.2 L102.12 382.7 L102.15 383.2 L102.17 383.7 L102.19 384.2 L102.22 384.7 L102.24 385.2 L102.27 385.7 L102.29 386.2 L102.32 386.7 L102.34 387.2 L102.37 387.7 L102.39 388.2 L102.42 388.7 L102.45 389.2 L102.48 389.7 L102.51 390.2 L102.54 390.7 L102.57 391.2 L102.6 391.7 L102.63 392.2 L102.66 392.7 L102.69 393.2 L102.72 393.7 L102.76 394.2 L102.79 394.7 L102.82 395.2 L102.86 395.7 L102.9 396.2 L102.94 396.7 L102.98 397.2 L103.02 397.7 L103.07 398.2 L103.12 398.7 L103.17 399.2 L103.23 399.7 L103.29 400.2 L103.36 400.7 L103.45 401.2 L103.55 401.7 L103.68 402.2 L103.88 402.7 L104.17 403.2 L104.53 403.7 L104.92 404.2 L105.34 404.7 L105.75 405.2 L106.17 405.7 L106.63 406.2 L107.12 406.7 L107.64 407.2 L108.18 407.7 L108.74 408.2 L109.33 408.7 L110 409.2 L110.7 409.7 L111.41 410.2 L112.1 410.7 L112.72 411.2 L113.28 411.7 L113.82 412.2 L114.35 412.7 L114.84 413.2 L115.28 413.7 L115.66 414.2 L115.96 414.7 L116.19 415.2 L116.39 415.7 L116.56 416.2 L116.74 416.7 L116.95 417.2 L117.21 417.7 L117.51 418.2 L117.85 418.7 L118.25 419.2 L118.71 419.7 L119.25 420.2 L119.95 420.7 L120.86 421.2 L121.93 421.7 L123.11 422.2 L124.43 422.7 L126.01 423.2 L127.73 423.7 L129.47 424.2 L131.15 424.7 L132.84 425.2 L134.56 425.7 L136.29 426.2 L138.07 426.7 L139.91 427.2 L141.77 427.7 L143.6 428.2 L145.34 428.7 L147.08 429.2 L148.77 429.7 L150.33 430.2 L151.71 430.7 L152.98 431.2 L154.07 431.7 L154.82 432.2 L155.25 432.7 L154.7 433.2 L153.72 433.7 L152.28 434.2 L150.34 434.7 L147.82 435.2 L145.16 435.7 L142.63 436.2 L140.05 436.7 L137.42 437.2 L134.65 437.7 L131.63 438.2 L128.92 438.7 L126.9 439.2 L125.12 439.7 L123.59 440.2 L122.38 440.7 L121.56 441.2 L120.9 441.7 L120.35 442.2 L119.89 442.7 L119.51 443.2 L119.19 443.7 L118.95 444.2 L118.75 444.7 L118.58 445.2 L118.39 445.7 L118.15 446.2 L117.85 446.7 L117.49 447.2 L117.1 447.7 L116.67 448.2 L116.24 448.7 L115.78 449.2 L115.26 449.7 L114.71 450.2 L114.16 450.7 L113.62 451.2 L113.13 451.7 L112.69 452.2 L112.29 452.7 L111.9 453.2 L111.53 453.7 L111.17 454.2 L110.82 454.7 L110.47 455.2 L110.13 455.7 L109.78 456.2 L109.43 456.7 L109.08 457.2 L108.73 457.7 L108.39 458.2 L108.06 458.7 L107.74 459.2 L107.43 459.7 L107.13 460.2 L106.83 460.7 L106.53 461.2 L106.23 461.7 L105.94 462.2 L105.66 462.7 L105.4 463.2 L105.16 463.7 L104.94 464.2 L104.75 464.7 L104.59 465.2 L104.44 465.7 L104.31 466.2 L104.18 466.7 L104.06 467.2 L103.94 467.7 L103.83 468.2 L103.73 468.7 L103.63 469.2 L103.54 469.7 L103.45 470.2 L103.36 470.7 L103.28 471.2 L103.19 471.7 L103.11 472.2 L103.03 472.7 L102.95 473.2 L102.87 473.7 L102.78 474.2 L102.7 474.7 L102.61 475.2 L102.52 475.7 L102.43 476.2 L102.35 476.7 L102.26 477.2 L102.18 477.7 L102.1 478.2 L102.02 478.7 L101.95 479.2 L101.88 479.7 L101.82 480.2 L101.77 480.7 L101.72 481.2 L101.69 481.7 L101.66 482.2 L101.64 482.7 L101.63 483.2 L101.62 483.7 L101.6 484.2 L101.59 484.7 L101.58 485.2 L101.57 485.7 L101.55 486.2 L101.54 486.7 L101.53 487.2 L101.52 487.7 L101.52 488.2 L101.51 488.7 L101.5 489.2 L101.49 489.7 L101.48 490.2 L101.48 490.7 L101.47 491.2 L101.46 491.7 L101.46 492.2 L101.45 492.7 L101.45 493.2 L101.44 493.7 L101.44 494.2 L101.43 494.7 L101.43 495.2 L101.42 495.7 L101.42 496.2 L101.41 496.7 L101.41 497.2 L101.4 497.7 L101.4 498.2 L101.4 498.7 L101.4 499.2 L101.4 499.7 L101.4 500.2 L101.4 500.7 L101.4 501.2 L101.4 501.7 L101.4 502.2 L101.4 502.7 L101.4 503.2 L101.4 503.7 L101.4 504.2 L101.4 504.7 L101.4 505.2 L101.4 505.7 L101.4 506.2 L101.4 506.7 L101.4 507.2 L101.4 507.7 L101.4 508.2 L101.4 508.7 L101.4 509.2 L101.4 509.7 L101.4 510.2 L101.4 510.7 L101.4 511.2 L101.4 511.7 L101.4 512.2 L101.4 512.7 L101.4 513.2 L101.4 513.7 L101.4 514.2 L101.4 514.7 L101.4 515.2 L101.4 515.7 L101.4 516.2 L101.4 516.7 L101.4 517.2 L101.4 517.7 L101.4 518.2 L101.4 518.7 L101.4 519.2 L101.4 519.7 L101.4 520.2 L101.4 520.7 L101.4 521.2 L101.4 521.7 L101.4 522.2 L101.4 522.7 L101.4 523.2 L101.4 523.7 L101.4 524.2 L101.4 524.7 L101.4 525.2 L101.4 525.4 L101.4 525.4 L101.4 525.2 L101.4 524.7 L101.4 524.2 L101.4 523.7 L101.4 523.2 L101.4 522.7 L101.4 522.2 L101.4 521.7 L101.4 521.2 L101.4 520.7 L101.4 520.2 L101.4 519.7 L101.4 519.2 L101.4 518.7 L101.4 518.2 L101.4 517.7 L101.4 517.2 L101.4 516.7 L101.4 516.2 L101.4 515.7 L101.4 515.2 L101.4 514.7 L101.4 514.2 L101.4 513.7 L101.4 513.2 L101.4 512.7 L101.4 512.2 L101.4 511.7 L101.4 511.2 L101.4 510.7 L101.4 510.2 L101.4 509.7 L101.4 509.2 L101.4 508.7 L101.4 508.2 L101.4 507.7 L101.4 507.2 L101.4 506.7 L101.4 506.2 L101.4 505.7 L101.4 505.2 L101.4 504.7 L101.4 504.2 L101.4 503.7 L101.4 503.2 L101.4 502.7 L101.4 502.2 L101.4 501.7 L101.4 501.2 L101.4 500.7 L101.4 500.2 L101.4 499.7 L101.4 499.2 L101.4 498.7 L101.4 498.2 L101.4 497.7 L101.39 497.2 L101.39 496.7 L101.38 496.2 L101.38 495.7 L101.37 495.2 L101.37 494.7 L101.36 494.2 L101.36 493.7 L101.35 493.2 L101.35 492.7 L101.34 492.2 L101.34 491.7 L101.33 491.2 L101.32 490.7 L101.32 490.2 L101.31 489.7 L101.3 489.2 L101.29 488.7 L101.28 488.2 L101.28 487.7 L101.27 487.2 L101.26 486.7 L101.25 486.2 L101.23 485.7 L101.22 485.2 L101.21 484.7 L101.2 484.2 L101.18 483.7 L101.17 483.2 L101.16 482.7 L101.14 482.2 L101.11 481.7 L101.08 481.2 L101.03 480.7 L100.98 480.2 L100.92 479.7 L100.85 479.2 L100.78 478.7 L100.7 478.2 L100.62 477.7 L100.54 477.2 L100.45 476.7 L100.37 476.2 L100.28 475.7 L100.19 475.2 L100.1 474.7 L100.02 474.2 L99.93 473.7 L99.85 473.2 L99.77 472.7 L99.69 472.2 L99.61 471.7 L99.52 471.2 L99.44 470.7 L99.35 470.2 L99.26 469.7 L99.17 469.2 L99.07 468.7 L98.97 468.2 L98.86 467.7 L98.74 467.2 L98.62 466.7 L98.49 466.2 L98.36 465.7 L98.21 465.2 L98.05 464.7 L97.86 464.2 L97.64 463.7 L97.4 463.2 L97.14 462.7 L96.86 462.2 L96.57 461.7 L96.27 461.2 L95.97 460.7 L95.67 460.2 L95.37 459.7 L95.06 459.2 L94.74 458.7 L94.41 458.2 L94.07 457.7 L93.72 457.2 L93.37 456.7 L93.02 456.2 L92.67 455.7 L92.33 455.2 L91.98 454.7 L91.63 454.2 L91.27 453.7 L90.9 453.2 L90.51 452.7 L90.11 452.2 L89.67 451.7 L89.18 451.2 L88.64 450.7 L88.09 450.2 L87.54 449.7 L87.02 449.2 L86.56 448.7 L86.13 448.2 L85.7 447.7 L85.31 447.2 L84.95 446.7 L84.65 446.2 L84.41 445.7 L84.22 445.2 L84.05 444.7 L83.85 444.2 L83.61 443.7 L83.29 443.2 L82.91 442.7 L82.45 442.2 L81.9 441.7 L81.24 441.2 L80.42 440.7 L79.21 440.2 L77.68 439.7 L75.9 439.2 L73.88 438.7 L71.17 438.2 L68.15 437.7 L65.38 437.2 L62.75 436.7 L60.17 436.2 L57.64 435.7 L54.98 435.2 L52.46 434.7 L50.52 434.2 L49.08 433.7 L48.1 433.2 L47.55 432.7 L47.98 432.2 L48.73 431.7 L49.82 431.2 L51.09 430.7 L52.47 430.2 L54.03 429.7 L55.72 429.2 L57.46 428.7 L59.2 428.2 L61.03 427.7 L62.89 427.2 L64.73 426.7 L66.51 426.2 L68.24 425.7 L69.96 425.2 L71.65 424.7 L73.33 424.2 L75.07 423.7 L76.79 423.2 L78.37 422.7 L79.69 422.2 L80.87 421.7 L81.94 421.2 L82.85 420.7 L83.55 420.2 L84.09 419.7 L84.55 419.2 L84.95 418.7 L85.29 418.2 L85.59 417.7 L85.85 417.2 L86.06 416.7 L86.24 416.2 L86.41 415.7 L86.61 415.2 L86.84 414.7 L87.14 414.2 L87.52 413.7 L87.96 413.2 L88.45 412.7 L88.98 412.2 L89.52 411.7 L90.08 411.2 L90.7 410.7 L91.39 410.2 L92.1 409.7 L92.8 409.2 L93.47 408.7 L94.06 408.2 L94.62 407.7 L95.16 407.2 L95.68 406.7 L96.17 406.2 L96.63 405.7 L97.05 405.2 L97.46 404.7 L97.88 404.2 L98.27 403.7 L98.63 403.2 L98.92 402.7 L99.12 402.2 L99.25 401.7 L99.35 401.2 L99.44 400.7 L99.51 400.2 L99.57 399.7 L99.63 399.2 L99.68 398.7 L99.73 398.2 L99.78 397.7 L99.82 397.2 L99.86 396.7 L99.9 396.2 L99.94 395.7 L99.98 395.2 L100.01 394.7 L100.04 394.2 L100.08 393.7 L100.11 393.2 L100.14 392.7 L100.17 392.2 L100.2 391.7 L100.23 391.2 L100.26 390.7 L100.29 390.2 L100.32 389.7 L100.35 389.2 L100.38 388.7 L100.41 388.2 L100.43 387.7 L100.46 387.2 L100.48 386.7 L100.51 386.2 L100.53 385.7 L100.56 385.2 L100.58 384.7 L100.61 384.2 L100.63 383.7 L100.65 383.2 L100.68 382.7 L100.7 382.2 L100.73 381.7 L100.75 381.2 L100.78 380.7 L100.8 380.2 L100.83 379.7 L100.85 379.2 L100.88 378.7 L100.91 378.2 L100.94 377.7 L100.97 377.2 L101 376.7 L101.04 376.2 L101.07 375.7 L101.11 375.2 L101.14 374.7 L101.18 374.2 L101.22 373.7 L101.26 373.2 L101.31 372.7 L101.35 372.2 L101.39 371.7 L101.4 371.2 L101.4 370.7 L101.4 370.2 L101.4 369.7 L101.4 369.2 L101.4 368.7 L101.4 368.2 L101.4 367.7 L101.4 367.2 L101.4 366.7 L101.4 366.2 L101.4 365.7 L101.4 365.2Z" fill="#00468B" stroke="#000" stroke-width="1.3" stroke-linejoin="round"/>
<path d="M209.9 362.9 L209.9 363.4 L209.9 363.9 L209.9 364.4 L209.9 364.9 L209.99 365.4 L210.12 365.9 L210.26 366.4 L210.42 366.9 L210.57 367.4 L210.73 367.9 L210.89 368.4 L211.03 368.9 L211.15 369.4 L211.25 369.9 L211.32 370.4 L211.35 370.9 L211.37 371.4 L211.39 371.9 L211.41 372.4 L211.43 372.9 L211.44 373.4 L211.45 373.9 L211.46 374.4 L211.48 374.9 L211.48 375.4 L211.49 375.9 L211.5 376.4 L211.51 376.9 L211.52 377.4 L211.52 377.9 L211.53 378.4 L211.54 378.9 L211.54 379.4 L211.55 379.9 L211.56 380.4 L211.56 380.9 L211.57 381.4 L211.57 381.9 L211.57 382.4 L211.58 382.9 L211.58 383.4 L211.58 383.9 L211.59 384.4 L211.59 384.9 L211.59 385.4 L211.6 385.9 L211.6 386.4 L211.6 386.9 L211.61 387.4 L211.61 387.9 L211.62 388.4 L211.63 388.9 L211.64 389.4 L211.65 389.9 L211.67 390.4 L211.71 390.9 L211.78 391.4 L211.86 391.9 L211.94 392.4 L212.03 392.9 L212.13 393.4 L212.24 393.9 L212.36 394.4 L212.5 394.9 L212.65 395.4 L212.82 395.9 L213 396.4 L213.22 396.9 L213.46 397.4 L213.73 397.9 L214 398.4 L214.28 398.9 L214.56 399.4 L214.86 399.9 L215.18 400.4 L215.5 400.9 L215.82 401.4 L216.12 401.9 L216.4 402.4 L216.65 402.9 L216.88 403.4 L217.1 403.9 L217.32 404.4 L217.57 404.9 L217.85 405.4 L218.16 405.9 L218.51 406.4 L218.89 406.9 L219.33 407.4 L219.84 407.9 L220.49 408.4 L221.35 408.9 L222.33 409.4 L223.35 409.9 L224.39 410.4 L225.53 410.9 L226.69 411.4 L227.82 411.9 L228.88 412.4 L229.95 412.9 L230.97 413.4 L231.88 413.9 L232.64 414.4 L233.33 414.9 L233.96 415.4 L234.46 415.9 L234.81 416.4 L235.05 416.9 L235.24 417.4 L235.4 417.9 L235.55 418.4 L235.68 418.9 L235.78 419.4 L235.9 419.9 L236.05 420.4 L236.27 420.9 L236.57 421.4 L236.96 421.9 L237.44 422.4 L238.17 422.9 L239.32 423.4 L240.73 423.9 L242.19 424.4 L243.58 424.9 L245.03 425.4 L246.54 425.9 L248.1 426.4 L249.7 426.9 L251.4 427.4 L253.14 427.9 L254.81 428.4 L256.35 428.9 L257.83 429.4 L259.23 429.9 L260.53 430.4 L261.67 430.9 L262.7 431.4 L263.19 431.9 L262.93 432.4 L261.77 432.9 L259.95 433.4 L257.81 433.9 L255.31 434.4 L252.66 434.9 L250.05 435.4 L247.56 435.9 L245.06 436.4 L242.57 436.9 L240.11 437.4 L237.69 437.9 L235.2 438.4 L232.79 438.9 L230.62 439.4 L228.77 439.9 L227.08 440.4 L225.55 440.9 L224.23 441.4 L223.14 441.9 L222.21 442.4 L221.37 442.9 L220.63 443.4 L219.95 443.9 L219.33 444.4 L218.75 444.9 L218.21 445.4 L217.71 445.9 L217.26 446.4 L216.85 446.9 L216.47 447.4 L216.11 447.9 L215.77 448.4 L215.44 448.9 L215.14 449.4 L214.85 449.9 L214.59 450.4 L214.34 450.9 L214.11 451.4 L213.88 451.9 L213.66 452.4 L213.44 452.9 L213.25 453.4 L213.08 453.9 L212.95 454.4 L212.86 454.9 L212.81 455.4 L212.76 455.9 L212.73 456.4 L212.7 456.9 L212.67 457.4 L212.64 457.9 L212.62 458.4 L212.61 458.9 L212.59 459.4 L212.57 459.9 L212.55 460.4 L212.54 460.9 L212.51 461.4 L212.49 461.9 L212.46 462.4 L212.43 462.9 L212.39 463.4 L212.34 463.9 L212.27 464.4 L212.16 464.9 L212.04 465.4 L211.89 465.9 L211.72 466.4 L211.55 466.9 L211.36 467.4 L211.17 467.9 L210.99 468.4 L210.81 468.9 L210.64 469.4 L210.48 469.9 L210.34 470.4 L210.23 470.9 L210.13 471.4 L210.02 471.9 L209.93 472.4 L209.9 472.9 L209.9 473.4 L209.9 473.9 L209.9 474.4 L209.9 474.9 L209.9 475.4 L209.9 475.9 L209.9 476.4 L209.9 476.9 L209.9 476.9 L209.9 476.4 L209.9 475.9 L209.9 475.4 L209.9 474.9 L209.9 474.4 L209.9 473.9 L209.9 473.4 L209.9 472.9 L209.87 472.4 L209.78 471.9 L209.67 471.4 L209.57 470.9 L209.46 470.4 L209.32 469.9 L209.16 469.4 L208.99 468.9 L208.81 468.4 L208.63 467.9 L208.44 467.4 L208.25 466.9 L208.08 466.4 L207.91 465.9 L207.76 465.4 L207.64 464.9 L207.53 464.4 L207.46 463.9 L207.41 463.4 L207.37 462.9 L207.34 462.4 L207.31 461.9 L207.29 461.4 L207.26 460.9 L207.25 460.4 L207.23 459.9 L207.21 459.4 L207.19 458.9 L207.18 458.4 L207.16 457.9 L207.13 457.4 L207.1 456.9 L207.07 456.4 L207.04 455.9 L206.99 455.4 L206.94 454.9 L206.85 454.4 L206.72 453.9 L206.55 453.4 L206.36 452.9 L206.14 452.4 L205.92 451.9 L205.69 451.4 L205.46 450.9 L205.21 450.4 L204.95 449.9 L204.66 449.4 L204.36 448.9 L204.03 448.4 L203.69 447.9 L203.33 447.4 L202.95 446.9 L202.54 446.4 L202.09 445.9 L201.59 445.4 L201.05 444.9 L200.47 444.4 L199.85 443.9 L199.17 443.4 L198.43 442.9 L197.59 442.4 L196.66 441.9 L195.57 441.4 L194.25 440.9 L192.72 440.4 L191.03 439.9 L189.18 439.4 L187.01 438.9 L184.6 438.4 L182.11 437.9 L179.69 437.4 L177.23 436.9 L174.74 436.4 L172.24 435.9 L169.75 435.4 L167.14 434.9 L164.49 434.4 L161.99 433.9 L159.85 433.4 L158.03 432.9 L156.87 432.4 L156.61 431.9 L157.1 431.4 L158.13 430.9 L159.27 430.4 L160.57 429.9 L161.97 429.4 L163.45 428.9 L164.99 428.4 L166.66 427.9 L168.4 427.4 L170.1 426.9 L171.7 426.4 L173.26 425.9 L174.77 425.4 L176.22 424.9 L177.61 424.4 L179.07 423.9 L180.48 423.4 L181.63 422.9 L182.36 422.4 L182.84 421.9 L183.23 421.4 L183.53 420.9 L183.75 420.4 L183.9 419.9 L184.02 419.4 L184.12 418.9 L184.25 418.4 L184.4 417.9 L184.56 417.4 L184.75 416.9 L184.99 416.4 L185.34 415.9 L185.84 415.4 L186.47 414.9 L187.16 414.4 L187.92 413.9 L188.83 413.4 L189.85 412.9 L190.92 412.4 L191.98 411.9 L193.11 411.4 L194.27 410.9 L195.41 410.4 L196.45 409.9 L197.47 409.4 L198.45 408.9 L199.31 408.4 L199.96 407.9 L200.47 407.4 L200.91 406.9 L201.29 406.4 L201.64 405.9 L201.95 405.4 L202.23 404.9 L202.48 404.4 L202.7 403.9 L202.92 403.4 L203.15 402.9 L203.4 402.4 L203.68 401.9 L203.98 401.4 L204.3 400.9 L204.62 400.4 L204.94 399.9 L205.24 399.4 L205.52 398.9 L205.8 398.4 L206.07 397.9 L206.34 397.4 L206.58 396.9 L206.8 396.4 L206.98 395.9 L207.15 395.4 L207.3 394.9 L207.44 394.4 L207.56 393.9 L207.67 393.4 L207.77 392.9 L207.86 392.4 L207.94 391.9 L208.02 391.4 L208.09 390.9 L208.13 390.4 L208.15 389.9 L208.16 389.4 L208.17 388.9 L208.18 388.4 L208.19 387.9 L208.19 387.4 L208.2 386.9 L208.2 386.4 L208.2 385.9 L208.21 385.4 L208.21 384.9 L208.21 384.4 L208.22 383.9 L208.22 383.4 L208.22 382.9 L208.23 382.4 L208.23 381.9 L208.23 381.4 L208.24 380.9 L208.24 380.4 L208.25 379.9 L208.26 379.4 L208.26 378.9 L208.27 378.4 L208.28 377.9 L208.28 377.4 L208.29 376.9 L208.3 376.4 L208.31 375.9 L208.32 375.4 L208.32 374.9 L208.34 374.4 L208.35 373.9 L208.36 373.4 L208.37 372.9 L208.39 372.4 L208.41 371.9 L208.43 371.4 L208.45 370.9 L208.48 370.4 L208.55 369.9 L208.65 369.4 L208.77 368.9 L208.91 368.4 L209.07 367.9 L209.23 367.4 L209.38 366.9 L209.54 366.4 L209.68 365.9 L209.81 365.4 L209.9 364.9 L209.9 364.4 L209.9 363.9 L209.9 363.4 L209.9 362.9Z" fill="#ED0000" stroke="#000" stroke-width="1.3" stroke-linejoin="round"/>
<path d="M101.4 402V465" stroke="#000" stroke-width="1.3"/><rect x="90.7" y="425.9" width="21.4" height="15.4" fill="#fff" stroke="#000" stroke-width="1.3"/><path d="M90.7 432.8H112.1" stroke="#000" stroke-width="2.2"/><g fill="#000"><circle cx="101.4" cy="376.9" r="1.85"/><circle cx="101.4" cy="382" r="1.85"/><circle cx="101.4" cy="391" r="1.79"/><circle cx="101.4" cy="392.73" r="1.79"/><circle cx="101.4" cy="394.47" r="1.79"/><circle cx="101.4" cy="396.2" r="1.79"/><circle cx="101.4" cy="397.93" r="1.79"/><circle cx="101.4" cy="399.67" r="1.79"/><circle cx="101.4" cy="401.4" r="1.79"/><circle cx="101.4" cy="465" r="1.79"/><circle cx="101.4" cy="466.67" r="1.79"/><circle cx="101.4" cy="468.33" r="1.79"/><circle cx="101.4" cy="470" r="1.79"/><circle cx="101.4" cy="471.67" r="1.79"/><circle cx="101.4" cy="473.33" r="1.79"/><circle cx="101.4" cy="475" r="1.79"/><circle cx="101.4" cy="476.67" r="1.79"/><circle cx="101.4" cy="478.33" r="1.79"/><circle cx="101.4" cy="480" r="1.79"/><circle cx="101.4" cy="483.5" r="1.85"/><circle cx="101.4" cy="487.9" r="1.85"/><circle cx="101.4" cy="498.9" r="1.85"/><circle cx="101.4" cy="503.2" r="1.85"/><circle cx="101.4" cy="515.5" r="1.85"/></g>
<path d="M209.9 397V454.2" stroke="#000" stroke-width="1.3"/><rect x="199.3" y="419.4" width="21.2" height="14.8" fill="#fff" stroke="#000" stroke-width="1.3"/><path d="M199.3 430.2H220.5" stroke="#000" stroke-width="2.2"/><g fill="#000"><circle cx="209.9" cy="371.5" r="1.85"/><circle cx="209.9" cy="375.3" r="1.85"/><circle cx="209.9" cy="384" r="1.85"/><circle cx="209.9" cy="394.4" r="1.85"/><circle cx="209.9" cy="463.4" r="1.85"/></g>
<path d="M101.4 350.8V347.6H209.9V350.8" fill="none" stroke="#2b2b2b" stroke-width="0.85"/>
<text x="155.65" y="345.4" font-size="9" text-anchor="middle" fill="#111">***</text>
<rect x="36.6" y="329.4" width="238.2" height="213.4" fill="none" stroke="#5a5a5a" stroke-width="1.1"/>
<path d="M33.4 338.3H36.6" stroke="#333" stroke-width="0.9"/><text x="31.8" y="341.29" font-size="8.3" text-anchor="end" fill="#4d4d4d">3</text><path d="M33.4 370.9H36.6" stroke="#333" stroke-width="0.9"/><text x="31.8" y="373.89" font-size="8.3" text-anchor="end" fill="#4d4d4d">2</text><path d="M33.4 403.5H36.6" stroke="#333" stroke-width="0.9"/><text x="31.8" y="406.49" font-size="8.3" text-anchor="end" fill="#4d4d4d">1</text><path d="M33.4 436.1H36.6" stroke="#333" stroke-width="0.9"/><text x="31.8" y="439.09" font-size="8.3" text-anchor="end" fill="#4d4d4d">0</text><path d="M33.4 468.7H36.6" stroke="#333" stroke-width="0.9"/><text x="31.8" y="471.69" font-size="8.3" text-anchor="end" fill="#4d4d4d">-1</text><path d="M33.4 501.3H36.6" stroke="#333" stroke-width="0.9"/><text x="31.8" y="504.29" font-size="8.3" text-anchor="end" fill="#4d4d4d">-2</text><path d="M33.4 533.9H36.6" stroke="#333" stroke-width="0.9"/><text x="31.8" y="536.89" font-size="8.3" text-anchor="end" fill="#4d4d4d">-3</text><path d="M101.4 542.8V546" stroke="#333" stroke-width="0.9"/><text x="101.4" y="552.7" font-size="8.3" text-anchor="middle" fill="#4d4d4d">M0</text><path d="M209.9 542.8V546" stroke="#333" stroke-width="0.9"/><text x="209.9" y="552.7" font-size="8.3" text-anchor="middle" fill="#4d4d4d">M1</text>
<text x="155.7" y="563" font-size="9.5" text-anchor="middle" fill="#000">M Stage</text>
<text transform="translate(20.8 436.1) rotate(-90)" font-size="9.5" text-anchor="middle" fill="#000">Risk Score</text>
<text x="288.2" y="423.7" font-size="8.1" fill="#000">M Stage</text>
<rect x="288.4" y="429" width="13.4" height="12.5" fill="#00468B" stroke="#222" stroke-width="1.1"/>
<text x="305.8" y="437.7" font-size="8.1" fill="#000">M0</text>
<rect x="288.4" y="442.9" width="13.4" height="12.5" fill="#ED0000" stroke="#222" stroke-width="1.1"/>
<text x="305.8" y="451.6" font-size="8.1" fill="#000">M1</text>
</g>
<text x="0.3" y="334" font-family='"Liberation Serif", "Times New Roman", serif' font-size="22.8" fill="#000">C</text>
<g font-family='"Liberation Serif", "Times New Roman", serif'>
<path d="M390.6 369.59H640.4" stroke="#efefef" stroke-width="0.6"/><path d="M390.6 426.83H640.4" stroke="#efefef" stroke-width="0.6"/><path d="M390.6 484.07H640.4" stroke="#efefef" stroke-width="0.6"/><path d="M390.6 541.31H640.4" stroke="#efefef" stroke-width="0.6"/><path d="M390.6 340.97H640.4" stroke="#e2e2e2" stroke-width="0.9"/><path d="M390.6 398.21H640.4" stroke="#e2e2e2" stroke-width="0.9"/><path d="M390.6 455.45H640.4" stroke="#e2e2e2" stroke-width="0.9"/><path d="M390.6 512.69H640.4" stroke="#e2e2e2" stroke-width="0.9"/><path d="M436.9 330.2V553.1" stroke="#e2e2e2" stroke-width="0.9"/><path d="M515.4 330.2V553.1" stroke="#e2e2e2" stroke-width="0.9"/><path d="M593.6 330.2V553.1" stroke="#e2e2e2" stroke-width="0.9"/>
<path d="M436.9 397.3 L436.9 397.8 L436.9 398.3 L436.9 398.8 L436.9 399.3 L436.9 399.8 L436.9 400.3 L436.9 400.8 L436.9 401.3 L436.9 401.8 L436.9 402.3 L436.9 402.8 L436.9 403.3 L436.9 403.8 L436.9 404.3 L436.9 404.8 L436.9 405.3 L436.9 405.8 L436.9 406.3 L436.9 406.8 L436.9 407.3 L436.9 407.8 L436.96 408.3 L437.01 408.8 L437.07 409.3 L437.13 409.8 L437.19 410.3 L437.27 410.8 L437.37 411.3 L437.48 411.8 L437.6 412.3 L437.73 412.8 L437.85 413.3 L437.97 413.8 L438.09 414.3 L438.19 414.8 L438.3 415.3 L438.42 415.8 L438.54 416.3 L438.67 416.8 L438.79 417.3 L438.9 417.8 L439.01 418.3 L439.1 418.8 L439.17 419.3 L439.22 419.8 L439.25 420.3 L439.25 420.8 L439.22 421.3 L439.18 421.8 L439.13 422.3 L439.07 422.8 L439.01 423.3 L438.94 423.8 L438.88 424.3 L438.83 424.8 L438.78 425.3 L438.76 425.8 L438.75 426.3 L438.79 426.8 L438.89 427.3 L439.02 427.8 L439.19 428.3 L439.36 428.8 L439.55 429.3 L439.76 429.8 L440.03 430.3 L440.33 430.8 L440.68 431.3 L441.07 431.8 L441.52 432.3 L442.1 432.8 L442.74 433.3 L443.4 433.8 L444.02 434.3 L444.57 434.8 L445.11 435.3 L445.62 435.8 L446.12 436.3 L446.58 436.8 L447.02 437.3 L447.42 437.8 L447.79 438.3 L448.15 438.8 L448.52 439.3 L448.9 439.8 L449.26 440.3 L449.63 440.8 L450.05 441.3 L450.57 441.8 L451.26 442.3 L452.12 442.8 L453.1 443.3 L454.15 443.8 L455.34 444.3 L456.71 444.8 L458.15 445.3 L459.58 445.8 L460.93 446.3 L462.28 446.8 L463.63 447.3 L465 447.8 L466.4 448.3 L467.88 448.8 L469.35 449.3 L470.73 449.8 L472.01 450.3 L473.23 450.8 L474.32 451.3 L475.17 451.8 L475.75 452.3 L475.95 452.8 L475.57 453.3 L474.79 453.8 L473.57 454.3 L471.75 454.8 L469.5 455.3 L467.19 455.8 L464.65 456.3 L461.92 456.8 L459.35 457.3 L457.25 457.8 L455.55 458.3 L454.01 458.8 L452.71 459.3 L451.71 459.8 L451 460.3 L450.42 460.8 L449.92 461.3 L449.5 461.8 L449.1 462.3 L448.73 462.8 L448.39 463.3 L448.08 463.8 L447.79 464.3 L447.51 464.8 L447.23 465.3 L446.93 465.8 L446.64 466.3 L446.35 466.8 L446.07 467.3 L445.78 467.8 L445.49 468.3 L445.19 468.8 L444.87 469.3 L444.55 469.8 L444.23 470.3 L443.9 470.8 L443.57 471.3 L443.25 471.8 L442.93 472.3 L442.6 472.8 L442.28 473.3 L441.95 473.8 L441.63 474.3 L441.32 474.8 L441.03 475.3 L440.75 475.8 L440.5 476.3 L440.24 476.8 L439.98 477.3 L439.74 477.8 L439.51 478.3 L439.29 478.8 L439.1 479.3 L438.93 479.8 L438.8 480.3 L438.68 480.8 L438.57 481.3 L438.48 481.8 L438.39 482.3 L438.31 482.8 L438.23 483.3 L438.15 483.8 L438.07 484.3 L437.98 484.8 L437.9 485.3 L437.8 485.8 L437.7 486.3 L437.6 486.8 L437.5 487.3 L437.41 487.8 L437.32 488.3 L437.25 488.8 L437.19 489.3 L437.15 489.8 L437.12 490.3 L437.09 490.8 L437.07 491.3 L437.04 491.8 L437.02 492.3 L437 492.8 L436.98 493.3 L436.96 493.8 L436.95 494.3 L436.93 494.8 L436.92 495.3 L436.9 495.8 L436.9 496.3 L436.9 496.8 L436.9 497.3 L436.9 497.8 L436.9 498.3 L436.9 498.8 L436.9 499.3 L436.9 499.8 L436.9 500.3 L436.9 500.8 L436.9 501.3 L436.9 501.8 L436.9 502.3 L436.9 502.8 L436.9 503.3 L436.9 503.8 L436.9 504.3 L436.9 504.8 L436.9 505.3 L436.9 505.8 L436.9 506.3 L436.9 506.8 L436.9 507.3 L436.9 507.8 L436.9 508.3 L436.9 508.8 L436.9 509.3 L436.9 509.8 L436.9 510.3 L436.9 510.8 L436.9 511.3 L436.9 511.8 L436.9 512.3 L436.9 512.8 L436.9 513.3 L436.9 513.8 L436.9 514.3 L436.9 514.8 L436.9 515.3 L436.9 515.8 L436.9 516.3 L436.9 516.8 L436.9 517.3 L436.9 517.8 L436.9 518.3 L436.9 518.8 L436.9 519.3 L436.9 519.8 L436.9 520.3 L436.9 520.8 L436.9 521.3 L436.9 521.8 L436.9 522.3 L436.9 522.8 L436.9 523.3 L436.9 523.5 L436.9 523.5 L436.9 523.3 L436.9 522.8 L436.9 522.3 L436.9 521.8 L436.9 521.3 L436.9 520.8 L436.9 520.3 L436.9 519.8 L436.9 519.3 L436.9 518.8 L436.9 518.3 L436.9 517.8 L436.9 517.3 L436.9 516.8 L436.9 516.3 L436.9 515.8 L436.9 515.3 L436.9 514.8 L436.9 514.3 L436.9 513.8 L436.9 513.3 L436.9 512.8 L436.9 512.3 L436.9 511.8 L436.9 511.3 L436.9 510.8 L436.9 510.3 L436.9 509.8 L436.9 509.3 L436.9 508.8 L436.9 508.3 L436.9 507.8 L436.9 507.3 L436.9 506.8 L436.9 506.3 L436.9 505.8 L436.9 505.3 L436.9 504.8 L436.9 504.3 L436.9 503.8 L436.9 503.3 L436.9 502.8 L436.9 502.3 L436.9 501.8 L436.9 501.3 L436.9 500.8 L436.9 500.3 L436.9 499.8 L436.9 499.3 L436.9 498.8 L436.9 498.3 L436.9 497.8 L436.9 497.3 L436.9 496.8 L436.9 496.3 L436.9 495.8 L436.88 495.3 L436.87 494.8 L436.85 494.3 L436.84 493.8 L436.82 493.3 L436.8 492.8 L436.78 492.3 L436.76 491.8 L436.73 491.3 L436.71 490.8 L436.68 490.3 L436.65 489.8 L436.61 489.3 L436.55 488.8 L436.48 488.3 L436.39 487.8 L436.3 487.3 L436.2 486.8 L436.1 486.3 L436 485.8 L435.9 485.3 L435.82 484.8 L435.73 484.3 L435.65 483.8 L435.57 483.3 L435.49 482.8 L435.41 482.3 L435.32 481.8 L435.23 481.3 L435.12 480.8 L435 480.3 L434.87 479.8 L434.7 479.3 L434.51 478.8 L434.29 478.3 L434.06 477.8 L433.82 477.3 L433.56 476.8 L433.3 476.3 L433.05 475.8 L432.77 475.3 L432.48 474.8 L432.17 474.3 L431.85 473.8 L431.52 473.3 L431.2 472.8 L430.87 472.3 L430.55 471.8 L430.23 471.3 L429.9 470.8 L429.57 470.3 L429.25 469.8 L428.93 469.3 L428.61 468.8 L428.31 468.3 L428.02 467.8 L427.73 467.3 L427.45 466.8 L427.16 466.3 L426.87 465.8 L426.57 465.3 L426.29 464.8 L426.01 464.3 L425.72 463.8 L425.41 463.3 L425.07 462.8 L424.7 462.3 L424.3 461.8 L423.88 461.3 L423.38 460.8 L422.8 460.3 L422.09 459.8 L421.09 459.3 L419.79 458.8 L418.25 458.3 L416.55 457.8 L414.45 457.3 L411.88 456.8 L409.15 456.3 L406.61 455.8 L404.3 455.3 L402.05 454.8 L400.23 454.3 L399.01 453.8 L398.23 453.3 L397.85 452.8 L398.05 452.3 L398.63 451.8 L399.48 451.3 L400.57 450.8 L401.79 450.3 L403.07 449.8 L404.45 449.3 L405.92 448.8 L407.4 448.3 L408.8 447.8 L410.17 447.3 L411.52 446.8 L412.87 446.3 L414.22 445.8 L415.65 445.3 L417.09 444.8 L418.46 444.3 L419.65 443.8 L420.7 443.3 L421.68 442.8 L422.54 442.3 L423.23 441.8 L423.75 441.3 L424.17 440.8 L424.54 440.3 L424.9 439.8 L425.28 439.3 L425.65 438.8 L426.01 438.3 L426.38 437.8 L426.78 437.3 L427.22 436.8 L427.68 436.3 L428.18 435.8 L428.69 435.3 L429.23 434.8 L429.78 434.3 L430.4 433.8 L431.06 433.3 L431.7 432.8 L432.28 432.3 L432.73 431.8 L433.12 431.3 L433.47 430.8 L433.77 430.3 L434.04 429.8 L434.25 429.3 L434.44 428.8 L434.61 428.3 L434.78 427.8 L434.91 427.3 L435.01 426.8 L435.05 426.3 L435.04 425.8 L435.02 425.3 L434.97 424.8 L434.92 424.3 L434.86 423.8 L434.79 423.3 L434.73 422.8 L434.67 422.3 L434.62 421.8 L434.58 421.3 L434.55 420.8 L434.55 420.3 L434.58 419.8 L434.63 419.3 L434.7 418.8 L434.79 418.3 L434.9 417.8 L435.01 417.3 L435.13 416.8 L435.26 416.3 L435.38 415.8 L435.5 415.3 L435.61 414.8 L435.71 414.3 L435.83 413.8 L435.95 413.3 L436.07 412.8 L436.2 412.3 L436.32 411.8 L436.43 411.3 L436.53 410.8 L436.61 410.3 L436.67 409.8 L436.73 409.3 L436.79 408.8 L436.84 408.3 L436.9 407.8 L436.9 407.3 L436.9 406.8 L436.9 406.3 L436.9 405.8 L436.9 405.3 L436.9 404.8 L436.9 404.3 L436.9 403.8 L436.9 403.3 L436.9 402.8 L436.9 402.3 L436.9 401.8 L436.9 401.3 L436.9 400.8 L436.9 400.3 L436.9 399.8 L436.9 399.3 L436.9 398.8 L436.9 398.3 L436.9 397.8 L436.9 397.3Z" fill="#00468B" stroke="#000" stroke-width="1.3" stroke-linejoin="round"/>
<path d="M515.4 392.1 L515.4 392.6 L515.4 393.1 L515.4 393.6 L515.4 394.1 L515.4 394.6 L515.42 395.1 L515.51 395.6 L515.6 396.1 L515.68 396.6 L515.75 397.1 L515.82 397.6 L515.88 398.1 L515.94 398.6 L515.99 399.1 L516.03 399.6 L516.07 400.1 L516.1 400.6 L516.12 401.1 L516.14 401.6 L516.15 402.1 L516.15 402.6 L516.14 403.1 L516.12 403.6 L516.09 404.1 L516.05 404.6 L516 405.1 L515.94 405.6 L515.88 406.1 L515.82 406.6 L515.76 407.1 L515.7 407.6 L515.65 408.1 L515.59 408.6 L515.55 409.1 L515.51 409.6 L515.48 410.1 L515.46 410.6 L515.45 411.1 L515.45 411.6 L515.45 412.1 L515.46 412.6 L515.46 413.1 L515.47 413.6 L515.47 414.1 L515.48 414.6 L515.49 415.1 L515.5 415.6 L515.52 416.1 L515.53 416.6 L515.55 417.1 L515.56 417.6 L515.58 418.1 L515.6 418.6 L515.62 419.1 L515.65 419.6 L515.67 420.1 L515.7 420.6 L515.73 421.1 L515.76 421.6 L515.82 422.1 L515.92 422.6 L516.05 423.1 L516.22 423.6 L516.46 424.1 L516.75 424.6 L517.08 425.1 L517.5 425.6 L518.06 426.1 L518.71 426.6 L519.39 427.1 L520.02 427.6 L520.57 428.1 L521.08 428.6 L521.58 429.1 L522.06 429.6 L522.55 430.1 L523.05 430.6 L523.58 431.1 L524.1 431.6 L524.62 432.1 L525.1 432.6 L525.53 433.1 L525.92 433.6 L526.29 434.1 L526.63 434.6 L526.95 435.1 L527.25 435.6 L527.52 436.1 L527.77 436.6 L528 437.1 L528.24 437.6 L528.5 438.1 L528.76 438.6 L529.01 439.1 L529.28 439.6 L529.59 440.1 L529.97 440.6 L530.5 441.1 L531.3 441.6 L532.3 442.1 L533.34 442.6 L534.37 443.1 L535.47 443.6 L536.62 444.1 L537.77 444.6 L538.89 445.1 L540.01 445.6 L541.11 446.1 L542.2 446.6 L543.26 447.1 L544.31 447.6 L545.34 448.1 L546.33 448.6 L547.25 449.1 L548.09 449.6 L548.88 450.1 L549.63 450.6 L550.35 451.1 L551.12 451.6 L551.61 452.1 L551.73 452.6 L551.35 453.1 L550.54 453.6 L549.5 454.1 L548.24 454.6 L546.81 455.1 L545.28 455.6 L543.65 456.1 L541.8 456.6 L539.84 457.1 L537.92 457.6 L536.16 458.1 L534.41 458.6 L532.72 459.1 L531.19 459.6 L529.92 460.1 L528.81 460.6 L527.8 461.1 L526.89 461.6 L526.1 462.1 L525.45 462.6 L524.91 463.1 L524.45 463.6 L524.03 464.1 L523.65 464.6 L523.29 465.1 L522.92 465.6 L522.55 466.1 L522.17 466.6 L521.81 467.1 L521.46 467.6 L521.14 468.1 L520.85 468.6 L520.61 469.1 L520.38 469.6 L520.17 470.1 L519.97 470.6 L519.8 471.1 L519.64 471.6 L519.49 472.1 L519.36 472.6 L519.24 473.1 L519.12 473.6 L519.02 474.1 L518.92 474.6 L518.82 475.1 L518.73 475.6 L518.65 476.1 L518.57 476.6 L518.51 477.1 L518.44 477.6 L518.39 478.1 L518.33 478.6 L518.27 479.1 L518.2 479.6 L518.14 480.1 L518.06 480.6 L517.99 481.1 L517.91 481.6 L517.83 482.1 L517.75 482.6 L517.67 483.1 L517.59 483.6 L517.5 484.1 L517.42 484.6 L517.33 485.1 L517.25 485.6 L517.17 486.1 L517.08 486.6 L517 487.1 L516.92 487.6 L516.83 488.1 L516.75 488.6 L516.66 489.1 L516.56 489.6 L516.46 490.1 L516.35 490.6 L516.25 491.1 L516.15 491.6 L516.04 492.1 L515.95 492.6 L515.85 493.1 L515.77 493.6 L515.69 494.1 L515.62 494.6 L515.56 495.1 L515.51 495.6 L515.47 496.1 L515.45 496.6 L515.44 497.1 L515.43 497.6 L515.42 498.1 L515.41 498.6 L515.41 499.1 L515.4 499.6 L515.4 500.1 L515.4 500.6 L515.4 501.1 L515.4 501.6 L515.4 502.1 L515.4 502.6 L515.4 503.1 L515.4 503.6 L515.4 504.1 L515.4 504.6 L515.4 505.1 L515.4 505.6 L515.4 506.1 L515.4 506.6 L515.4 507.1 L515.4 507.6 L515.4 508.1 L515.4 508.6 L515.4 509.1 L515.4 509.6 L515.4 510.1 L515.4 510.6 L515.4 511.1 L515.4 511.6 L515.4 512.1 L515.4 512.6 L515.4 513.1 L515.4 513.6 L515.4 514.1 L515.4 514.6 L515.4 515.1 L515.4 515.6 L515.4 516.1 L515.4 516.6 L515.4 517.1 L515.4 517.6 L515.4 518.1 L515.4 518.6 L515.4 519.1 L515.4 519.6 L515.4 520.1 L515.4 520.6 L515.43 521.1 L515.51 521.6 L515.59 522.1 L515.67 522.6 L515.75 523.1 L515.82 523.6 L515.88 524.1 L515.93 524.6 L515.95 525.1 L515.95 525.6 L515.94 526.1 L515.93 526.6 L515.92 527.1 L515.9 527.6 L515.88 528.1 L515.84 528.6 L515.81 529.1 L515.77 529.6 L515.72 530.1 L515.67 530.6 L515.6 531.1 L515.54 531.6 L515.46 532.1 L515.4 532.6 L515.4 533.1 L515.4 533.6 L515.4 534.1 L515.4 534.6 L515.4 535.1 L515.4 535.6 L515.4 535.6 L515.4 535.1 L515.4 534.6 L515.4 534.1 L515.4 533.6 L515.4 533.1 L515.4 532.6 L515.34 532.1 L515.26 531.6 L515.2 531.1 L515.13 530.6 L515.08 530.1 L515.03 529.6 L514.99 529.1 L514.96 528.6 L514.92 528.1 L514.9 527.6 L514.88 527.1 L514.87 526.6 L514.86 526.1 L514.85 525.6 L514.85 525.1 L514.87 524.6 L514.92 524.1 L514.98 523.6 L515.05 523.1 L515.13 522.6 L515.21 522.1 L515.29 521.6 L515.37 521.1 L515.4 520.6 L515.4 520.1 L515.4 519.6 L515.4 519.1 L515.4 518.6 L515.4 518.1 L515.4 517.6 L515.4 517.1 L515.4 516.6 L515.4 516.1 L515.4 515.6 L515.4 515.1 L515.4 514.6 L515.4 514.1 L515.4 513.6 L515.4 513.1 L515.4 512.6 L515.4 512.1 L515.4 511.6 L515.4 511.1 L515.4 510.6 L515.4 510.1 L515.4 509.6 L515.4 509.1 L515.4 508.6 L515.4 508.1 L515.4 507.6 L515.4 507.1 L515.4 506.6 L515.4 506.1 L515.4 505.6 L515.4 505.1 L515.4 504.6 L515.4 504.1 L515.4 503.6 L515.4 503.1 L515.4 502.6 L515.4 502.1 L515.4 501.6 L515.4 501.1 L515.4 500.6 L515.4 500.1 L515.4 499.6 L515.39 499.1 L515.39 498.6 L515.38 498.1 L515.37 497.6 L515.36 497.1 L515.35 496.6 L515.33 496.1 L515.29 495.6 L515.24 495.1 L515.18 494.6 L515.11 494.1 L515.03 493.6 L514.95 493.1 L514.85 492.6 L514.76 492.1 L514.65 491.6 L514.55 491.1 L514.45 490.6 L514.34 490.1 L514.24 489.6 L514.14 489.1 L514.05 488.6 L513.97 488.1 L513.88 487.6 L513.8 487.1 L513.72 486.6 L513.63 486.1 L513.55 485.6 L513.47 485.1 L513.38 484.6 L513.3 484.1 L513.21 483.6 L513.13 483.1 L513.05 482.6 L512.97 482.1 L512.89 481.6 L512.81 481.1 L512.74 480.6 L512.66 480.1 L512.6 479.6 L512.53 479.1 L512.47 478.6 L512.41 478.1 L512.36 477.6 L512.29 477.1 L512.23 476.6 L512.15 476.1 L512.07 475.6 L511.98 475.1 L511.88 474.6 L511.78 474.1 L511.68 473.6 L511.56 473.1 L511.44 472.6 L511.31 472.1 L511.16 471.6 L511 471.1 L510.83 470.6 L510.63 470.1 L510.42 469.6 L510.19 469.1 L509.95 468.6 L509.66 468.1 L509.34 467.6 L508.99 467.1 L508.63 466.6 L508.25 466.1 L507.88 465.6 L507.51 465.1 L507.15 464.6 L506.77 464.1 L506.35 463.6 L505.89 463.1 L505.35 462.6 L504.7 462.1 L503.91 461.6 L503 461.1 L501.99 460.6 L500.88 460.1 L499.61 459.6 L498.08 459.1 L496.39 458.6 L494.64 458.1 L492.88 457.6 L490.96 457.1 L489 456.6 L487.15 456.1 L485.52 455.6 L483.99 455.1 L482.56 454.6 L481.3 454.1 L480.26 453.6 L479.45 453.1 L479.07 452.6 L479.19 452.1 L479.68 451.6 L480.45 451.1 L481.17 450.6 L481.92 450.1 L482.71 449.6 L483.55 449.1 L484.47 448.6 L485.46 448.1 L486.49 447.6 L487.54 447.1 L488.6 446.6 L489.69 446.1 L490.79 445.6 L491.91 445.1 L493.03 444.6 L494.18 444.1 L495.33 443.6 L496.43 443.1 L497.46 442.6 L498.5 442.1 L499.5 441.6 L500.3 441.1 L500.83 440.6 L501.21 440.1 L501.52 439.6 L501.79 439.1 L502.04 438.6 L502.3 438.1 L502.56 437.6 L502.8 437.1 L503.03 436.6 L503.28 436.1 L503.55 435.6 L503.85 435.1 L504.17 434.6 L504.51 434.1 L504.88 433.6 L505.27 433.1 L505.7 432.6 L506.18 432.1 L506.7 431.6 L507.22 431.1 L507.75 430.6 L508.25 430.1 L508.74 429.6 L509.22 429.1 L509.72 428.6 L510.23 428.1 L510.78 427.6 L511.41 427.1 L512.09 426.6 L512.74 426.1 L513.3 425.6 L513.72 425.1 L514.05 424.6 L514.34 424.1 L514.58 423.6 L514.75 423.1 L514.88 422.6 L514.98 422.1 L515.04 421.6 L515.07 421.1 L515.1 420.6 L515.13 420.1 L515.15 419.6 L515.18 419.1 L515.2 418.6 L515.22 418.1 L515.24 417.6 L515.25 417.1 L515.27 416.6 L515.28 416.1 L515.3 415.6 L515.31 415.1 L515.32 414.6 L515.33 414.1 L515.33 413.6 L515.34 413.1 L515.34 412.6 L515.35 412.1 L515.35 411.6 L515.35 411.1 L515.34 410.6 L515.32 410.1 L515.29 409.6 L515.25 409.1 L515.21 408.6 L515.15 408.1 L515.1 407.6 L515.04 407.1 L514.98 406.6 L514.92 406.1 L514.86 405.6 L514.8 405.1 L514.75 404.6 L514.71 404.1 L514.68 403.6 L514.66 403.1 L514.65 402.6 L514.65 402.1 L514.66 401.6 L514.68 401.1 L514.7 400.6 L514.73 400.1 L514.77 399.6 L514.81 399.1 L514.86 398.6 L514.92 398.1 L514.98 397.6 L515.05 397.1 L515.12 396.6 L515.2 396.1 L515.29 395.6 L515.38 395.1 L515.4 394.6 L515.4 394.1 L515.4 393.6 L515.4 393.1 L515.4 392.6 L515.4 392.1Z" fill="#ED0000" stroke="#000" stroke-width="1.3" stroke-linejoin="round"/>
<path d="M593.6 390 L593.6 390.5 L593.6 391 L593.6 391.5 L593.6 392 L593.6 392.5 L593.6 393 L593.6 393.5 L593.6 394 L593.64 394.5 L593.71 395 L593.78 395.5 L593.85 396 L593.92 396.5 L593.98 397 L594.05 397.5 L594.11 398 L594.17 398.5 L594.24 399 L594.3 399.5 L594.36 400 L594.42 400.5 L594.48 401 L594.53 401.5 L594.59 402 L594.65 402.5 L594.71 403 L594.77 403.5 L594.83 404 L594.89 404.5 L594.95 405 L595.01 405.5 L595.07 406 L595.13 406.5 L595.19 407 L595.24 407.5 L595.29 408 L595.34 408.5 L595.38 409 L595.42 409.5 L595.45 410 L595.48 410.5 L595.5 411 L595.52 411.5 L595.54 412 L595.55 412.5 L595.57 413 L595.59 413.5 L595.61 414 L595.64 414.5 L595.68 415 L595.73 415.5 L595.79 416 L595.87 416.5 L595.95 417 L596.04 417.5 L596.14 418 L596.24 418.5 L596.35 419 L596.47 419.5 L596.62 420 L596.79 420.5 L596.98 421 L597.17 421.5 L597.37 422 L597.57 422.5 L597.79 423 L598.02 423.5 L598.26 424 L598.51 424.5 L598.78 425 L599.06 425.5 L599.36 426 L599.68 426.5 L600.02 427 L600.38 427.5 L600.74 428 L601.13 428.5 L601.53 429 L601.96 429.5 L602.41 430 L602.88 430.5 L603.36 431 L603.85 431.5 L604.37 432 L604.93 432.5 L605.51 433 L606.08 433.5 L606.64 434 L607.15 434.5 L607.63 435 L608.1 435.5 L608.55 436 L608.97 436.5 L609.37 437 L609.72 437.5 L610.03 438 L610.3 438.5 L610.54 439 L610.77 439.5 L611 440 L611.25 440.5 L611.46 441 L611.67 441.5 L611.9 442 L612.18 442.5 L612.53 443 L613.1 443.5 L613.86 444 L614.71 444.5 L615.55 445 L616.39 445.5 L617.28 446 L618.19 446.5 L619.08 447 L619.94 447.5 L620.82 448 L621.66 448.5 L622.41 449 L623.08 449.5 L623.69 450 L624.17 450.5 L624.55 451 L624.75 451.5 L624.55 452 L624.18 452.5 L623.72 453 L623.05 453.5 L622.03 454 L620.74 454.5 L619.31 455 L617.86 455.5 L616.22 456 L614.44 456.5 L612.69 457 L611.17 457.5 L609.77 458 L608.45 458.5 L607.26 459 L606.25 459.5 L605.4 460 L604.63 460.5 L603.94 461 L603.32 461.5 L602.76 462 L602.25 462.5 L601.78 463 L601.35 463.5 L600.95 464 L600.57 464.5 L600.2 465 L599.83 465.5 L599.48 466 L599.14 466.5 L598.81 467 L598.49 467.5 L598.18 468 L597.88 468.5 L597.59 469 L597.31 469.5 L597.03 470 L596.75 470.5 L596.49 471 L596.23 471.5 L595.99 472 L595.76 472.5 L595.55 473 L595.34 473.5 L595.12 474 L594.91 474.5 L594.7 475 L594.51 475.5 L594.35 476 L594.24 476.5 L594.16 477 L594.14 477.5 L594.12 478 L594.1 478.5 L594.08 479 L594.07 479.5 L594.06 480 L594.04 480.5 L594.03 481 L594.02 481.5 L594.02 482 L594.01 482.5 L594 483 L593.99 483.5 L593.99 484 L593.98 484.5 L593.98 485 L593.97 485.5 L593.97 486 L593.96 486.5 L593.96 487 L593.96 487.5 L593.95 488 L593.94 488.5 L593.94 489 L593.93 489.5 L593.92 490 L593.92 490.5 L593.91 491 L593.9 491.5 L593.89 492 L593.87 492.5 L593.86 493 L593.84 493.5 L593.83 494 L593.8 494.5 L593.78 495 L593.76 495.5 L593.73 496 L593.7 496.5 L593.66 497 L593.63 497.5 L593.6 498 L593.6 498.5 L593.6 499 L593.6 499.5 L593.6 500 L593.6 500.5 L593.6 501 L593.6 501.5 L593.6 502 L593.6 502.5 L593.6 503 L593.6 503.5 L593.6 504 L593.6 504.5 L593.6 505 L593.6 505 L593.6 504.5 L593.6 504 L593.6 503.5 L593.6 503 L593.6 502.5 L593.6 502 L593.6 501.5 L593.6 501 L593.6 500.5 L593.6 500 L593.6 499.5 L593.6 499 L593.6 498.5 L593.6 498 L593.57 497.5 L593.54 497 L593.5 496.5 L593.47 496 L593.44 495.5 L593.42 495 L593.4 494.5 L593.37 494 L593.36 493.5 L593.34 493 L593.33 492.5 L593.31 492 L593.3 491.5 L593.29 491 L593.28 490.5 L593.28 490 L593.27 489.5 L593.26 489 L593.26 488.5 L593.25 488 L593.24 487.5 L593.24 487 L593.24 486.5 L593.23 486 L593.23 485.5 L593.22 485 L593.22 484.5 L593.21 484 L593.21 483.5 L593.2 483 L593.19 482.5 L593.18 482 L593.18 481.5 L593.17 481 L593.16 480.5 L593.14 480 L593.13 479.5 L593.12 479 L593.1 478.5 L593.08 478 L593.06 477.5 L593.04 477 L592.96 476.5 L592.85 476 L592.69 475.5 L592.5 475 L592.29 474.5 L592.08 474 L591.86 473.5 L591.65 473 L591.44 472.5 L591.21 472 L590.97 471.5 L590.71 471 L590.45 470.5 L590.17 470 L589.89 469.5 L589.61 469 L589.32 468.5 L589.02 468 L588.71 467.5 L588.39 467 L588.06 466.5 L587.72 466 L587.37 465.5 L587 465 L586.63 464.5 L586.25 464 L585.85 463.5 L585.42 463 L584.95 462.5 L584.44 462 L583.88 461.5 L583.26 461 L582.57 460.5 L581.8 460 L580.95 459.5 L579.94 459 L578.75 458.5 L577.43 458 L576.03 457.5 L574.51 457 L572.76 456.5 L570.98 456 L569.34 455.5 L567.89 455 L566.46 454.5 L565.17 454 L564.15 453.5 L563.48 453 L563.02 452.5 L562.65 452 L562.45 451.5 L562.65 451 L563.03 450.5 L563.51 450 L564.12 449.5 L564.79 449 L565.54 448.5 L566.38 448 L567.26 447.5 L568.12 447 L569.01 446.5 L569.92 446 L570.81 445.5 L571.65 445 L572.49 444.5 L573.34 444 L574.1 443.5 L574.67 443 L575.02 442.5 L575.3 442 L575.53 441.5 L575.74 441 L575.95 440.5 L576.2 440 L576.43 439.5 L576.66 439 L576.9 438.5 L577.17 438 L577.48 437.5 L577.83 437 L578.23 436.5 L578.65 436 L579.1 435.5 L579.57 435 L580.05 434.5 L580.56 434 L581.12 433.5 L581.69 433 L582.27 432.5 L582.83 432 L583.35 431.5 L583.84 431 L584.32 430.5 L584.79 430 L585.24 429.5 L585.67 429 L586.07 428.5 L586.46 428 L586.82 427.5 L587.18 427 L587.52 426.5 L587.84 426 L588.14 425.5 L588.42 425 L588.69 424.5 L588.94 424 L589.18 423.5 L589.41 423 L589.63 422.5 L589.83 422 L590.03 421.5 L590.22 421 L590.41 420.5 L590.58 420 L590.73 419.5 L590.85 419 L590.96 418.5 L591.06 418 L591.16 417.5 L591.25 417 L591.33 416.5 L591.41 416 L591.47 415.5 L591.52 415 L591.56 414.5 L591.59 414 L591.61 413.5 L591.63 413 L591.65 412.5 L591.66 412 L591.68 411.5 L591.7 411 L591.72 410.5 L591.75 410 L591.78 409.5 L591.82 409 L591.86 408.5 L591.91 408 L591.96 407.5 L592.01 407 L592.07 406.5 L592.13 406 L592.19 405.5 L592.25 405 L592.31 404.5 L592.37 404 L592.43 403.5 L592.49 403 L592.55 402.5 L592.61 402 L592.67 401.5 L592.72 401 L592.78 400.5 L592.84 400 L592.9 399.5 L592.96 399 L593.03 398.5 L593.09 398 L593.15 397.5 L593.22 397 L593.28 396.5 L593.35 396 L593.42 395.5 L593.49 395 L593.56 394.5 L593.6 394 L593.6 393.5 L593.6 393 L593.6 392.5 L593.6 392 L593.6 391.5 L593.6 391 L593.6 390.5 L593.6 390Z" fill="#42B540" stroke="#000" stroke-width="1.3" stroke-linejoin="round"/>
<path d="M436.9 427V481" stroke="#000" stroke-width="1.3"/><rect x="428.9" y="447.4" width="15.9" height="13.7" fill="#fff" stroke="#000" stroke-width="1.3"/><path d="M428.9 453.2H444.8" stroke="#000" stroke-width="2.2"/><g fill="#000"><circle cx="436.9" cy="406.5" r="1.85"/><circle cx="436.9" cy="413.7" r="1.79"/><circle cx="436.9" cy="415.43" r="1.79"/><circle cx="436.9" cy="417.16" r="1.79"/><circle cx="436.9" cy="418.89" r="1.79"/><circle cx="436.9" cy="420.61" r="1.79"/><circle cx="436.9" cy="422.34" r="1.79"/><circle cx="436.9" cy="424.07" r="1.79"/><circle cx="436.9" cy="425.8" r="1.79"/><circle cx="436.9" cy="481" r="1.79"/><circle cx="436.9" cy="482.75" r="1.79"/><circle cx="436.9" cy="484.5" r="1.79"/><circle cx="436.9" cy="486.25" r="1.79"/><circle cx="436.9" cy="488" r="1.79"/><circle cx="436.9" cy="489.75" r="1.79"/><circle cx="436.9" cy="491.5" r="1.79"/><circle cx="436.9" cy="495.8" r="1.85"/><circle cx="436.9" cy="501" r="1.85"/><circle cx="436.9" cy="510.6" r="1.85"/><circle cx="436.9" cy="514.4" r="1.85"/></g>
<path d="M515.4 425V476.5" stroke="#000" stroke-width="1.3"/><rect x="507.3" y="444.4" width="16.1" height="13" fill="#fff" stroke="#000" stroke-width="1.3"/><path d="M507.3 452.2H523.4" stroke="#000" stroke-width="2.2"/><g fill="#000"><circle cx="515.4" cy="401.8" r="1.85"/><circle cx="515.4" cy="418.8" r="1.85"/><circle cx="515.4" cy="476" r="1.79"/><circle cx="515.4" cy="477.7" r="1.79"/><circle cx="515.4" cy="479.4" r="1.79"/><circle cx="515.4" cy="481.1" r="1.79"/><circle cx="515.4" cy="482.8" r="1.79"/><circle cx="515.4" cy="484.5" r="1.79"/><circle cx="515.4" cy="486.2" r="1.79"/><circle cx="515.4" cy="487.9" r="1.79"/><circle cx="515.4" cy="489.6" r="1.79"/><circle cx="515.4" cy="491.3" r="1.79"/><circle cx="515.4" cy="493" r="1.79"/><circle cx="515.4" cy="525.3" r="1.85"/></g>
<path d="M593.6 416.6V477" stroke="#000" stroke-width="1.3"/><rect x="585.6" y="439.3" width="16" height="15" fill="#fff" stroke="#000" stroke-width="1.3"/><path d="M585.6 449.4H601.6" stroke="#000" stroke-width="2.2"/><g fill="#000"><circle cx="593.6" cy="401.5" r="1.85"/><circle cx="593.6" cy="404" r="1.85"/><circle cx="593.6" cy="406.5" r="1.85"/><circle cx="593.6" cy="409.5" r="1.85"/><circle cx="593.6" cy="412.5" r="1.85"/><circle cx="593.6" cy="415.5" r="1.85"/><circle cx="593.6" cy="478.5" r="1.79"/><circle cx="593.6" cy="480.02" r="1.79"/><circle cx="593.6" cy="481.55" r="1.79"/><circle cx="593.6" cy="483.08" r="1.79"/><circle cx="593.6" cy="484.6" r="1.79"/><circle cx="593.6" cy="492.4" r="1.85"/></g>
<path d="M515.4 352.4V349.2H593.6V352.4" fill="none" stroke="#2b2b2b" stroke-width="0.85"/>
<text x="554.5" y="347" font-size="9" text-anchor="middle" fill="#111">*</text>
<path d="M436.9 366.7V363.5H593.6V366.7" fill="none" stroke="#2b2b2b" stroke-width="0.85"/>
<text x="515.25" y="361.3" font-size="9" text-anchor="middle" fill="#111">****</text>
<path d="M436.9 380.8V377.6H515.4V380.8" fill="none" stroke="#2b2b2b" stroke-width="0.85"/>
<text x="476.15" y="375.2" font-size="9" text-anchor="middle" fill="#111">ns</text>
<rect x="390.6" y="330.2" width="249.8" height="222.9" fill="none" stroke="#5a5a5a" stroke-width="1.1"/>
<path d="M387.4 340.97H390.6" stroke="#333" stroke-width="0.9"/><text x="385.8" y="343.96" font-size="8.3" text-anchor="end" fill="#4d4d4d">4</text><path d="M387.4 398.21H390.6" stroke="#333" stroke-width="0.9"/><text x="385.8" y="401.2" font-size="8.3" text-anchor="end" fill="#4d4d4d">2</text><path d="M387.4 455.45H390.6" stroke="#333" stroke-width="0.9"/><text x="385.8" y="458.44" font-size="8.3" text-anchor="end" fill="#4d4d4d">0</text><path d="M387.4 512.69H390.6" stroke="#333" stroke-width="0.9"/><text x="385.8" y="515.68" font-size="8.3" text-anchor="end" fill="#4d4d4d">-2</text><path d="M436.9 553.1V556.3" stroke="#333" stroke-width="0.9"/><text x="436.9" y="563.7" font-size="8.3" text-anchor="middle" fill="#4d4d4d">N0</text><path d="M515.4 553.1V556.3" stroke="#333" stroke-width="0.9"/><text x="515.4" y="563.7" font-size="8.3" text-anchor="middle" fill="#4d4d4d">N1</text><path d="M593.6 553.1V556.3" stroke="#333" stroke-width="0.9"/><text x="593.6" y="563.7" font-size="8.3" text-anchor="middle" fill="#4d4d4d">N2</text>
<text x="515.5" y="575" font-size="9.5" text-anchor="middle" fill="#000">N Stage</text>
<text transform="translate(373.8 441.65) rotate(-90)" font-size="9.5" text-anchor="middle" fill="#000">Risk Score</text>
<text x="654.2" y="421.8" font-size="8.1" fill="#000">N Stage</text>
<rect x="654.6" y="427.3" width="13.9" height="12.9" fill="#00468B" stroke="#222" stroke-width="1.1"/>
<text x="672.5" y="436.7" font-size="8.1" fill="#000">N0</text>
<rect x="654.6" y="441.6" width="13.9" height="12.9" fill="#ED0000" stroke="#222" stroke-width="1.1"/>
<text x="672.5" y="451" font-size="8.1" fill="#000">N1</text>
<rect x="654.6" y="455.9" width="13.9" height="12.9" fill="#42B540" stroke="#222" stroke-width="1.1"/>
<text x="672.5" y="465.3" font-size="8.1" fill="#000">N2</text>
</g>
<text x="335.7" y="334" font-family='"Liberation Serif", "Times New Roman", serif' font-size="22.8" fill="#000">D</text>
</svg></body></html>
